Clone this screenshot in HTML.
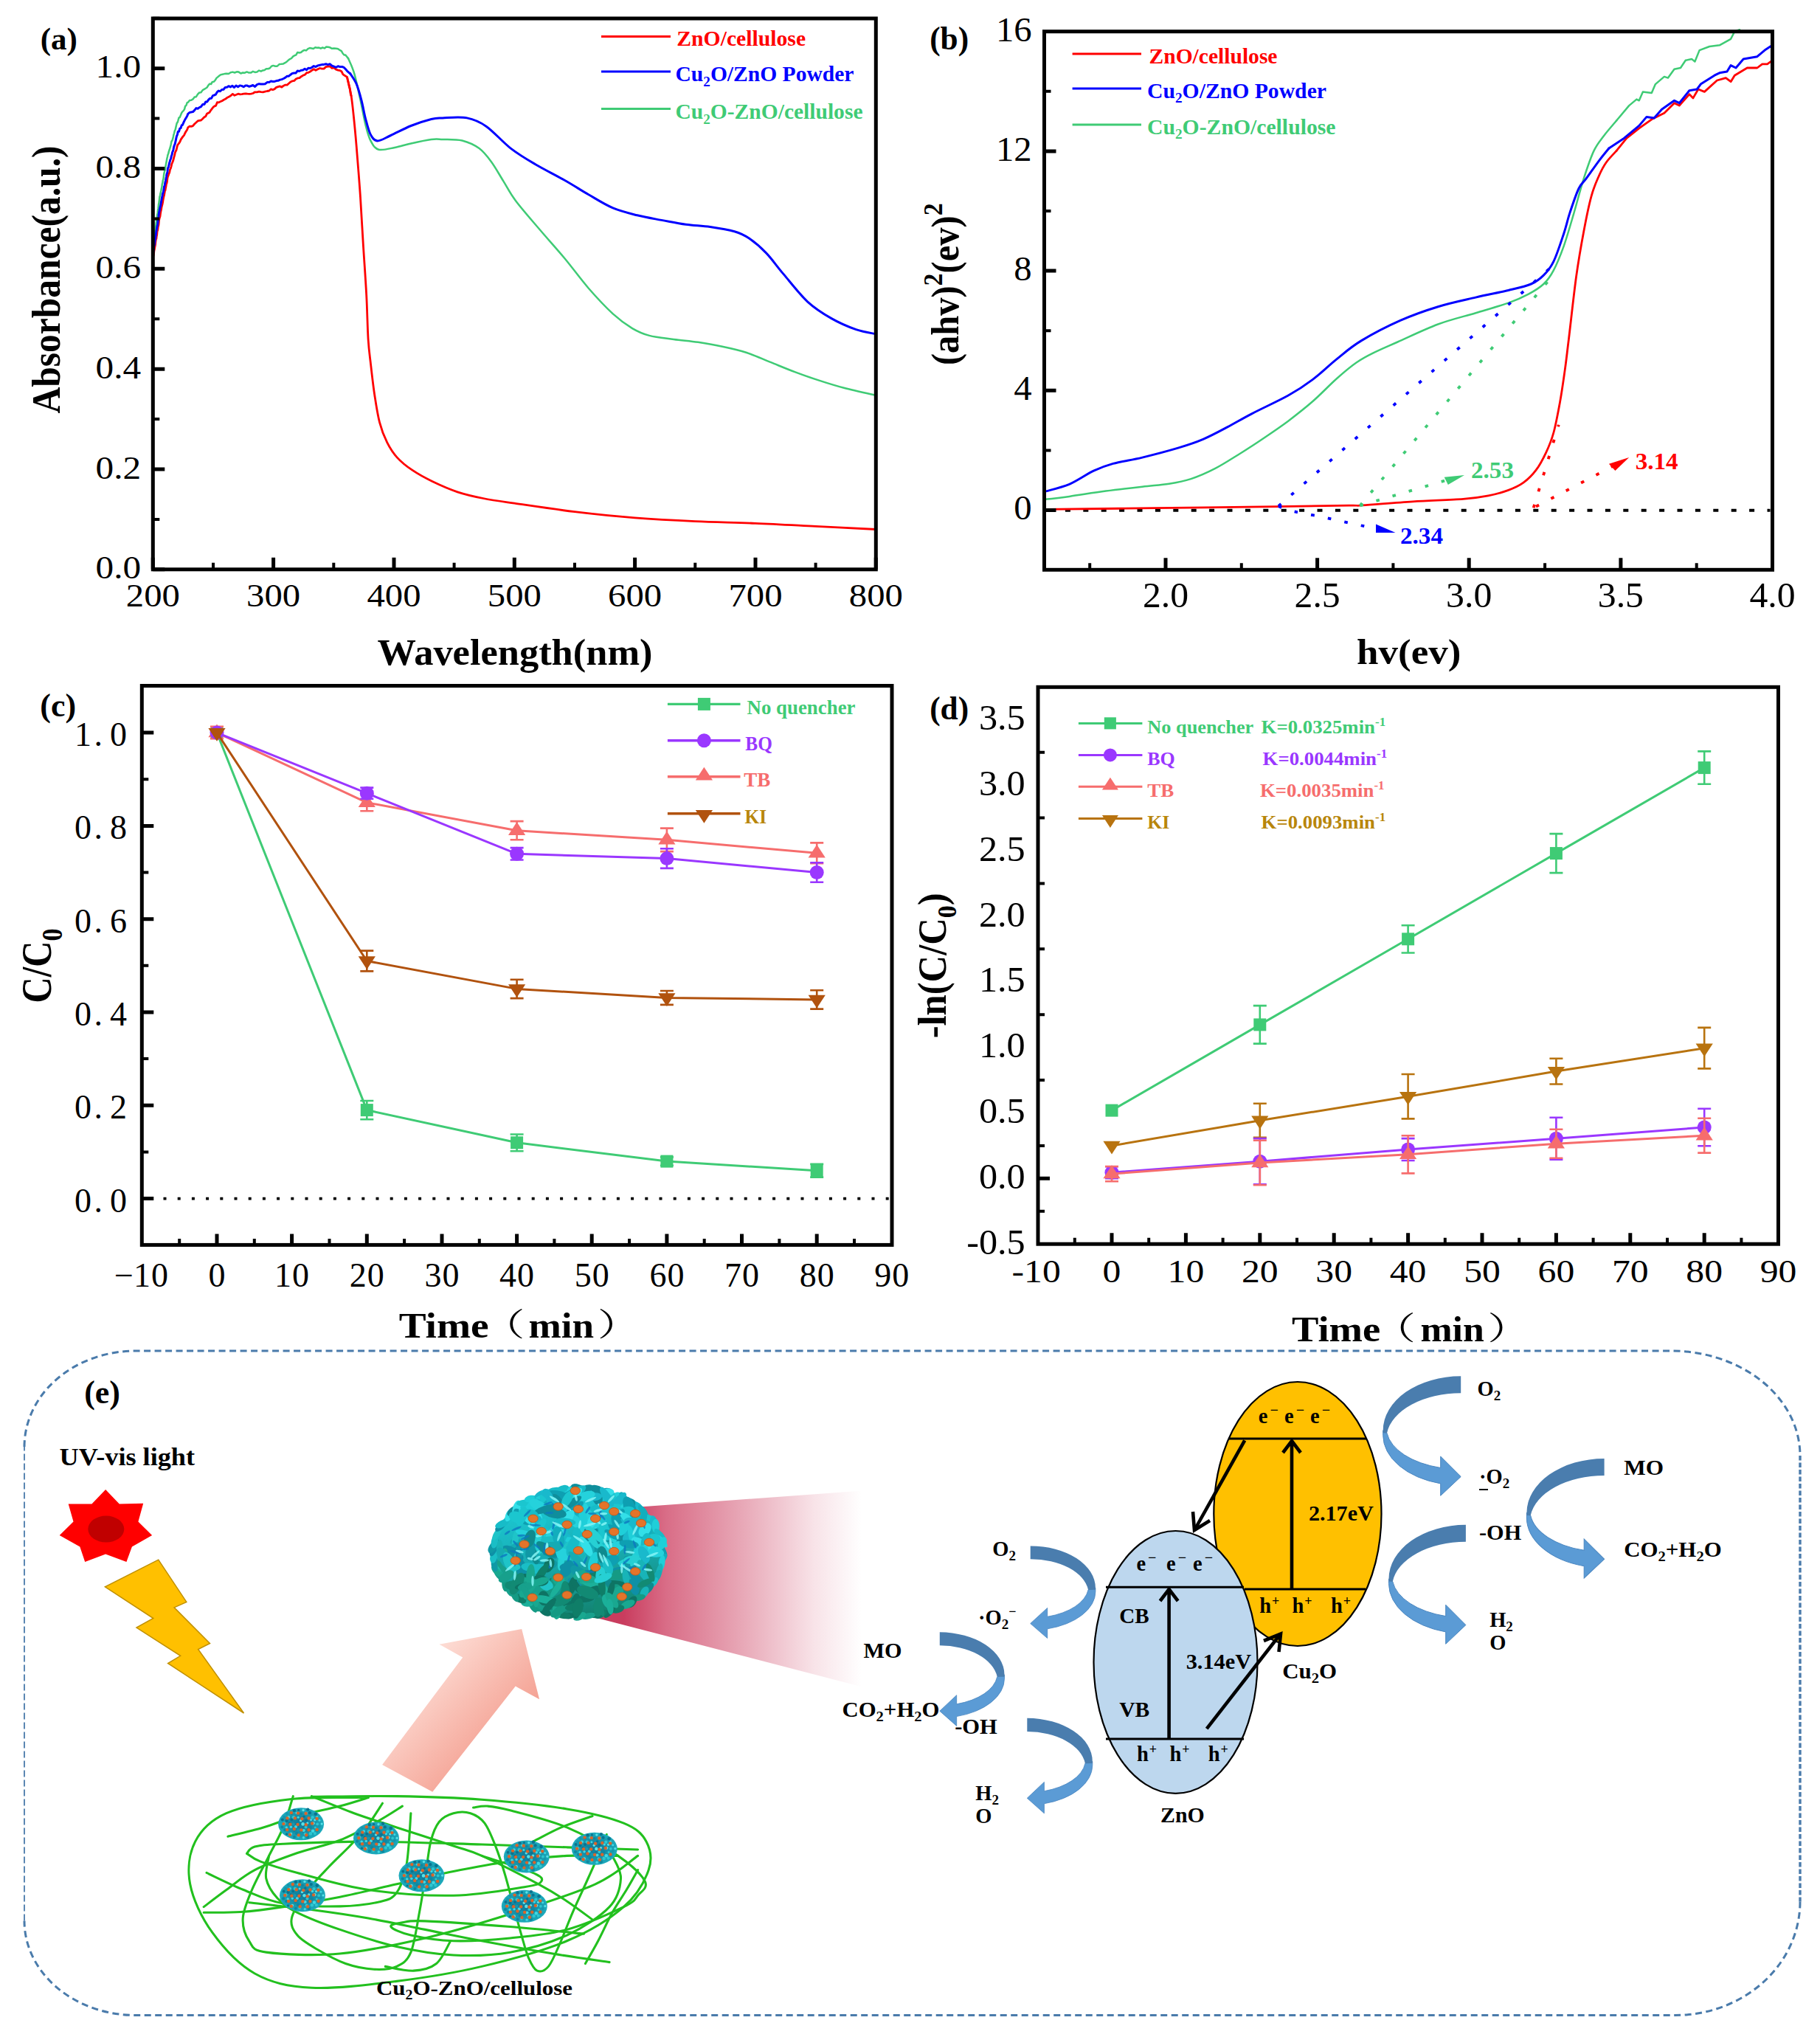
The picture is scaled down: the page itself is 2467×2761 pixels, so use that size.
<!DOCTYPE html>
<html lang="en"><head><meta charset="utf-8"><title>Figure</title>
<style>html,body{margin:0;padding:0;background:#fff}body{width:2467px;height:2761px;overflow:hidden}svg{display:block}text{font-family:"Liberation Serif","Noto Serif CJK SC",serif}</style></head><body>
<svg width="2467" height="2761" viewBox="0 0 2467 2761">
<defs><linearGradient id="gArrow" gradientUnits="userSpaceOnUse" x1="575" y1="2255" x2="700" y2="2370"><stop offset="0" stop-color="#fddcd4"/><stop offset="1" stop-color="#f3998a"/></linearGradient>
<linearGradient id="gCone" gradientUnits="userSpaceOnUse" x1="845" y1="0" x2="1168" y2="0"><stop offset="0" stop-color="#c93c5e"/><stop offset="0.18" stop-color="#d96d87"/><stop offset="0.5" stop-color="#e8a8b7"/><stop offset="0.8" stop-color="#f8e3e8"/><stop offset="1" stop-color="#ffffff"/></linearGradient>
<linearGradient id="gBall" x1="0.4" y1="0" x2="0.6" y2="1"><stop offset="0" stop-color="#1dcfdc"/><stop offset="0.5" stop-color="#18aeb4"/><stop offset="1" stop-color="#12806c"/></linearGradient>
<radialGradient id="gSmall" cx="0.5" cy="0.5" r="0.55"><stop offset="0" stop-color="#116f92"/><stop offset="0.6" stop-color="#1796ab"/><stop offset="1" stop-color="#1fb2c2"/></radialGradient>
<g id="sb">
<ellipse cx="0" cy="0" rx="31" ry="22" fill="url(#gSmall)"/>
<circle cx="-9.2" cy="-18.4" r="2.2" fill="#0a7390"/>
<circle cx="-3.4" cy="-18.9" r="1.7" fill="#0a7390"/>
<circle cx="3" cy="-18.8" r="1.7" fill="#57e2e8"/>
<circle cx="9.1" cy="-19.7" r="2.2" fill="#0a7390"/>
<circle cx="-19.2" cy="-14.2" r="1.9" fill="#1596ae"/>
<circle cx="-12.8" cy="-14.2" r="1.6" fill="#0a7390"/>
<circle cx="-6.1" cy="-15.1" r="1.5" fill="#3fd8e2"/>
<circle cx="-0" cy="-14" r="1.8" fill="#0e87a0"/>
<circle cx="6.7" cy="-14.4" r="2.1" fill="#57e2e8"/>
<circle cx="11.8" cy="-15.1" r="2.1" fill="#0a7390"/>
<circle cx="19.8" cy="-13.6" r="2.3" fill="#0a7390"/>
<circle cx="-23" cy="-9.4" r="2" fill="#1596ae"/>
<circle cx="-16.9" cy="-9.4" r="1.9" fill="#3fd8e2"/>
<circle cx="-10" cy="-9.1" r="2.3" fill="#2cc6d0"/>
<circle cx="-3.9" cy="-9.1" r="1.5" fill="#3fd8e2"/>
<circle cx="3.8" cy="-10" r="1.6" fill="#0a7390"/>
<circle cx="8.9" cy="-9.5" r="1.8" fill="#1596ae"/>
<circle cx="15.5" cy="-9.1" r="2.2" fill="#2cc6d0"/>
<circle cx="21.6" cy="-9.5" r="1.5" fill="#3fd8e2"/>
<circle cx="-25.3" cy="-5.7" r="2" fill="#0a7390"/>
<circle cx="-19.4" cy="-4.4" r="2.2" fill="#0a7390"/>
<circle cx="-12.8" cy="-5.8" r="1.9" fill="#0a7390"/>
<circle cx="-7.4" cy="-4.6" r="2.4" fill="#0e87a0"/>
<circle cx="-0.5" cy="-4.6" r="1.7" fill="#57e2e8"/>
<circle cx="7" cy="-5" r="2" fill="#0a7390"/>
<circle cx="13.4" cy="-5.7" r="1.7" fill="#3fd8e2"/>
<circle cx="18.7" cy="-5.5" r="1.6" fill="#57e2e8"/>
<circle cx="24.9" cy="-5" r="1.5" fill="#3fd8e2"/>
<circle cx="-22.8" cy="-0.7" r="2.4" fill="#2cc6d0"/>
<circle cx="-15.7" cy="-1.2" r="1.8" fill="#0a7390"/>
<circle cx="-10.4" cy="0.1" r="2.2" fill="#1596ae"/>
<circle cx="-3" cy="-1.1" r="2.1" fill="#0e87a0"/>
<circle cx="2.5" cy="0.1" r="2.3" fill="#57e2e8"/>
<circle cx="8.7" cy="-1.3" r="1.6" fill="#57e2e8"/>
<circle cx="16.5" cy="-1" r="2.1" fill="#57e2e8"/>
<circle cx="22.1" cy="0" r="1.9" fill="#2cc6d0"/>
<circle cx="28.1" cy="-0.2" r="1.6" fill="#57e2e8"/>
<circle cx="-25.8" cy="4.2" r="2.1" fill="#0e87a0"/>
<circle cx="-19.8" cy="4.7" r="1.7" fill="#3fd8e2"/>
<circle cx="-13.7" cy="3.9" r="1.7" fill="#3fd8e2"/>
<circle cx="-7.1" cy="3.8" r="2" fill="#3fd8e2"/>
<circle cx="-0.9" cy="3.4" r="1.9" fill="#0e87a0"/>
<circle cx="6.5" cy="4.3" r="2" fill="#2cc6d0"/>
<circle cx="12.7" cy="4.7" r="1.9" fill="#0e87a0"/>
<circle cx="19.3" cy="4.7" r="1.5" fill="#2cc6d0"/>
<circle cx="24.7" cy="3.3" r="1.8" fill="#1596ae"/>
<circle cx="-21.8" cy="7.9" r="2" fill="#0e87a0"/>
<circle cx="-16.9" cy="9.3" r="2.2" fill="#1596ae"/>
<circle cx="-9.3" cy="9.3" r="1.8" fill="#0e87a0"/>
<circle cx="-3.4" cy="7.9" r="2.3" fill="#1596ae"/>
<circle cx="3.6" cy="8.7" r="2.1" fill="#3fd8e2"/>
<circle cx="9.2" cy="7.8" r="1.6" fill="#0a7390"/>
<circle cx="16" cy="9.4" r="2.3" fill="#3fd8e2"/>
<circle cx="21.9" cy="9.3" r="2.1" fill="#1596ae"/>
<circle cx="-19.5" cy="13.7" r="1.6" fill="#0a7390"/>
<circle cx="-13.8" cy="13.4" r="1.9" fill="#57e2e8"/>
<circle cx="-5.9" cy="12.6" r="2.2" fill="#0e87a0"/>
<circle cx="0.5" cy="12.8" r="1.5" fill="#1596ae"/>
<circle cx="5.6" cy="13.4" r="2" fill="#2cc6d0"/>
<circle cx="12.9" cy="13.1" r="2.3" fill="#2cc6d0"/>
<circle cx="18.8" cy="12.8" r="2.1" fill="#2cc6d0"/>
<circle cx="-9.2" cy="17.6" r="2" fill="#0e87a0"/>
<circle cx="-3.9" cy="17.2" r="1.8" fill="#2cc6d0"/>
<circle cx="3.3" cy="18.5" r="1.7" fill="#3fd8e2"/>
<circle cx="8.8" cy="17.8" r="2.3" fill="#0e87a0"/>
<circle cx="-13.2" cy="-15.2" r="2.2" fill="#d9652b"/>
<circle cx="-4" cy="-14.7" r="2.2" fill="#d9652b"/>
<circle cx="6.5" cy="-14.3" r="2.2" fill="#d9652b"/>
<circle cx="-18.7" cy="-7.9" r="2.2" fill="#d9652b"/>
<circle cx="-8.2" cy="-7.9" r="2.2" fill="#d9652b"/>
<circle cx="1.3" cy="-7.1" r="2.2" fill="#d9652b"/>
<circle cx="10.5" cy="-7.8" r="2.2" fill="#d9652b"/>
<circle cx="21.4" cy="-7.4" r="2.2" fill="#d9652b"/>
<circle cx="-23.7" cy="-0.2" r="2.2" fill="#d9652b"/>
<circle cx="-14.7" cy="0.5" r="2.2" fill="#d9652b"/>
<circle cx="-4.6" cy="0.6" r="2.2" fill="#d9652b"/>
<circle cx="6.7" cy="1" r="2.2" fill="#d9652b"/>
<circle cx="15.1" cy="-0.8" r="2.2" fill="#d9652b"/>
<circle cx="-18.9" cy="7.8" r="2.2" fill="#d9652b"/>
<circle cx="-9.3" cy="6.7" r="2.2" fill="#d9652b"/>
<circle cx="0.3" cy="8.1" r="2.2" fill="#d9652b"/>
<circle cx="10.4" cy="7.9" r="2.2" fill="#d9652b"/>
<circle cx="21.6" cy="7.6" r="2.2" fill="#d9652b"/>
<circle cx="-15.1" cy="14.5" r="2.2" fill="#d9652b"/>
<circle cx="-3.3" cy="15.1" r="2.2" fill="#d9652b"/>
<circle cx="7.1" cy="15" r="2.2" fill="#d9652b"/>
</g></defs>
<rect width="2467" height="2761" fill="#fff"/>
<g id="pa"><g fill="none" stroke-linejoin="round" stroke-linecap="round">
<path d="M207.7 347.3L208.1 346.6L208.5 343.9L208.9 340L209.4 338.1L209.8 335.4L210.2 333.4L210.6 331.2L211 326.8L211.5 324.1L211.9 323.7L212.3 320.1L212.7 318.4L213.1 313.8L213.6 312.4L214 310.6L214.4 306.8L214.8 306.1L215.2 303.4L215.6 298.6L216.1 296L216.5 294.8L217 293.4L217.5 289.4L218 286.5L218.5 284.5L219 281L219.5 279L220 277.1L220.5 274.7L221 271.6L221.5 269.1L222 266.5L222.5 264.7L223 261.7L223.5 258.5L224 258.1L224.5 254.9L225 252.6L225.5 249L226 248.6L226.5 245.7L227 241.3L227.5 239.3L228.2 237.9L229 235.4L229.8 233.6L230.5 229.8L231.3 228.4L232.1 225.6L232.8 222.2L233.6 220.5L234.3 218.8L235.1 216.3L235.9 212.9L236.6 210.7L237.4 206.8L238.2 204.9L238.9 203.9L239.7 200.5L240.4 197.4L241.2 196L242.6 194.2L244 191.9L245.3 188.9L246.7 186.9L248.1 184.9L249.5 183.4L250.8 180.5L252.2 178L253.6 176L254.9 172.6L257.1 171.1L259.3 171.4L261.5 170.6L263.7 168L265.9 166L268.1 163.9L270.3 163.3L272.5 163L274.7 161L276.9 158.8L278.7 157.8L280.4 154.3L282.2 153.2L283.9 152.4L285.7 149.6L287.4 147.4L289.2 145L290.9 143.9L292.7 143.1L294.4 138.7L296.2 138.9L298.6 137.8L301 136.7L303.4 135.2L305.8 134.1L308.2 132.2L310.6 131.1L313 129.5L315.4 127.4L317.9 129.3L320.4 128.3L322.9 127.2L325.4 127.8L327.9 127.6L330.4 127.1L332.9 126.9L335.4 127.2L337.9 127.3L340.4 127.1L342.9 126.5L345.6 124.8L348.4 124.8L351.1 124.1L353.8 124.6L356.6 124.8L359.3 124.1L362.1 123.5L364.8 123L367.3 120.9L369.7 121.7L372.2 120.6L374.6 118.4L377 117.6L379.5 116.9L381.9 118.2L384.4 116.2L386.8 115.1L389.2 115.1L391.6 113L394 110.9L396.4 109.8L398.8 109.4L401.2 107L403.6 105.9L406 105.7L408.4 103.7L410.9 102.1L413.3 101.2L415.7 98.7L418.1 98.3L420.5 97.1L422.9 95.2L425.3 93.7L428 95.3L430.8 93.8L433.5 92.5L436.3 93.1L439 93.1L441.8 90.6L444.5 90.1L447.3 90L450 92.4L452.7 91.9L455.5 94.2L458.2 95.1L461 95.7L462.9 96.7L464.8 100.6L466.8 102.1L468.7 103.3L470.6 104.4L471.2 108L471.7 109.8L472.3 112.8L472.8 114.6L473.4 117.9L473.9 118.9L474.5 121.9L475 126.2L475.5 128.4L476.1 129.9" stroke="#ff0000" stroke-width="2.8"/>
<path d="M470.6 105.2C471.5 109.3 474.5 119.8 476.1 129.9C477.7 140 478.8 151.9 480.2 165.6C481.6 179.3 483 195.4 484.3 212.3C485.7 229.2 487.1 246.6 488.5 267.3C489.8 287.9 491.2 313.8 492.6 335.9C494 358 495.6 379.3 496.7 399.9C497.8 420.6 498.1 444.3 499.1 460C500.1 475.7 501.2 481.6 502.6 494.1C504 506.6 505.7 522 507.7 535C509.7 548 511.7 561.6 514.5 572.4C517.3 583.2 520.7 591.8 524.7 599.7C528.7 607.7 532.6 613.9 538.3 620.1C544 626.4 550.8 631.8 558.8 637.2C566.8 642.6 575.8 647.6 586 652.5C596.2 657.4 608.6 663 620.1 666.8C631.6 670.6 642.1 672.9 655 675.5C667.9 678.1 676.6 679.2 697.3 682.2C718 685.2 751.8 690.4 779 693.7C806.2 697 833.4 699.8 860.6 701.9C887.8 704 915.1 705.4 942.3 706.6C969.5 707.8 996.8 708.2 1024 709.3C1051.2 710.4 1078.4 712 1105.6 713.4C1132.8 714.8 1173.7 716.8 1187.3 717.5" stroke="#ff0000" stroke-width="2.8"/>
<path d="M207.7 329.8L208 328L208.4 325L208.7 323.1L209.1 320.7L209.5 316.7L209.8 314L210.2 313.6L210.5 309.6L210.9 307L211.2 306.5L211.6 302.6L211.9 301L212.3 297.5L212.6 295.4L213 291.6L213.3 290.4L213.7 288.4L214 285L214.4 283L214.7 280.3L215.1 276.2L215.4 275.5L215.8 272.5L216.1 269.3L216.5 266L217 265.7L217.4 262.2L217.9 260.3L218.4 258.2L218.9 255.3L219.4 253.3L219.8 249.4L220.3 248L220.8 244.5L221.3 243.3L221.7 240.6L222.2 236.1L222.7 233.7L223.2 231.4L223.7 230.8L224.1 227L224.6 224.9L225.1 221.6L225.6 219.6L226 216.8L226.5 214.2L227 212.3L227.5 209.8L228.2 208.2L228.9 205.1L229.6 203.3L230.4 200.7L231.1 198.5L231.8 195.3L232.5 191.5L233.3 190.8L234 188.6L234.7 186L235.4 182.7L236.1 180.6L236.9 176.9L237.6 176L238.3 172.9L239 169.7L239.8 166.6L240.5 166.2L241.2 164.1L242.5 159.5L243.7 159.1L245 155.9L246.2 153L247.5 151.1L248.7 150.1L250 148.1L251.2 143.7L252.4 142.9L253.7 139.2L254.9 138.7L257.1 136L259.3 135.8L261.5 134.4L263.7 131.6L265.9 131.2L268.1 127.7L270.3 125.5L272.5 125.2L274.7 122.1L276.9 120.9L278.8 119.7L280.6 118.5L282.4 115.6L284.2 113.6L286.1 114L287.9 110.9L289.7 110.8L291.6 108.9L293.4 105.9L295.2 104.4L297.1 102.8L298.9 101.4L301.6 100.7L304.4 100.1L307.1 99.7L309.9 100L312.6 98.3L315.4 97.6L318.1 98.5L320.9 97.3L323.6 97.6L326.4 99.5L329.1 98.5L331.9 98.7L334.6 97.4L337.4 98.6L340.1 98.6L342.9 96.8L345.6 97.9L348.4 97.5L351.1 95.6L353.8 96.7L356.2 95.4L358.6 95L360.9 93.3L363.3 93.3L365.6 92.5L368 89.7L370.3 88.9L373.1 89.7L375.8 89.7L378.6 87.1L381.3 86.8L384.1 86.4L386.8 84.9L388.9 83.4L390.9 81.6L393 80.1L395.1 79L397.1 76.6L399.2 75.2L401.2 74.6L403.3 71L405.7 71.5L408 71L410.4 69L412.7 67.9L415.1 68.5L417.4 66.1L419.8 65.1L422.3 65.5L424.8 66L427.3 64.3L429.8 64.7L432.3 64.6L434.8 65.7L437.3 64.5L439.8 65.4L442.3 63.4L444.8 63.7L447.3 64.3L450 65.8L452.7 65.5L455.5 65.7L458.2 66.3L461 68.2L462.8 69.1L464.7 72.5L466.5 74.5L468.3 74.6L470.1 76.7L472 79.1" stroke="#3fcb75" stroke-width="2.5"/>
<path d="M472 79.1C473.4 82.5 477.5 90.3 480.2 99.7C483 109.1 485.9 123.9 488.5 135.4C491 146.8 493 159.2 495.3 168.4C497.6 177.5 499.2 184.6 502.2 190.3C505.2 196.1 507.7 201.1 513.2 202.7C518.7 204.3 527.8 201.3 535.2 199.9C542.5 198.6 548.9 196.3 557.1 194.5C565.4 192.6 577.5 189.9 584.6 189C591.8 188 593 188.6 600 188.9C607 189.2 618.1 188.5 626.4 190.5C634.6 192.6 642.9 196.3 649.5 201.1C656 205.9 660.4 211.8 665.9 219.2C671.4 226.6 676.9 236.8 682.4 245.6C687.9 254.4 690.7 261 698.9 272C707.1 283 720.9 298.6 731.9 311.5C742.9 324.5 753.8 336.3 764.8 349.5C775.8 362.6 786.8 378 797.8 390.7C808.8 403.3 820.9 416.2 830.8 425.3C840.7 434.3 848.9 440.1 857.1 445.1C865.4 450 870.9 452.5 880.2 454.9C889.6 457.4 902.2 458.4 913.2 459.9C924.2 461.4 935.2 462.2 946.2 463.8C957.1 465.5 968.1 467.4 979.1 469.8C990.1 472.1 1001.1 474.5 1012.1 478C1023.1 481.6 1034.1 486.8 1045.1 491.2C1056 495.6 1067 500.3 1078 504.4C1089 508.5 1100 512.4 1111 515.9C1122 519.5 1131.3 522.5 1144 525.8C1156.6 529.1 1179.7 534.1 1186.8 535.7" stroke="#3fcb75" stroke-width="2.5"/>
<path d="M207.7 342.6L208.1 340.1L208.5 335.3L208.8 332.8L209.2 332.3L209.6 329.5L210 326.8L210.4 323.4L210.8 321.6L211.1 319.1L211.5 316.6L211.9 312.9L212.3 311.1L212.7 308.5L213 306.9L213.4 305.1L213.8 302.5L214.2 298.9L214.6 296.1L215 293.2L215.3 290.1L215.7 287.5L216.1 286.2L216.5 283.3L217 280.9L217.5 279.8L218 276.3L218.5 273.9L219 270.6L219.5 267.5L220 265.8L220.5 262.8L221 261.3L221.5 260.1L222 256.7L222.5 252.9L223 252.3L223.5 249.5L224 246.9L224.5 244.8L225 242L225.5 239.5L226 235.9L226.5 235L227 232.5L227.5 227.9L228.2 227L228.8 224.4L229.5 221.3L230.2 219L230.9 216.4L231.6 215.1L232.3 211.5L233 209.9L233.7 206.2L234.3 205.1L235 202.6L235.7 199L236.4 196.8L237.1 195.3L237.8 192.3L238.5 189.2L239.1 186L239.8 183.8L240.5 182.3L241.2 178.5L242.5 178.2L243.7 174.2L245 173.7L246.2 169.9L247.5 169.3L248.7 166.4L250 163.6L251.2 161.4L252.4 159.5L253.7 157.1L254.9 154.1L257.1 152.5L259.3 151.9L261.5 151.6L263.7 149.4L265.9 146.6L268.1 147.2L270.3 145.6L272.5 144.7L274.7 141.5L276.9 141.5L278.8 138L280.8 137.9L282.7 135.2L284.6 133.4L286.5 133.3L288.5 129.6L290.4 129L292.3 128.2L294.2 124.9L296.2 123.1L298.4 123.8L300.7 121.5L303 121.3L305.3 118.4L307.6 118.2L309.9 116.7L312.4 117.9L315 116.3L317.5 118.5L320 116L322.6 117.8L325.1 115.9L327.6 116.4L330.2 117.8L332.7 116.1L335.2 116.1L337.8 117.3L340.3 116.5L342.9 115.5L345.6 117.4L348.4 114.6L351.1 113.7L353.8 114L356.6 114.1L359.3 113.8L362.1 111.6L364.8 111.6L367.3 110L369.7 110.4L372.2 110.4L374.6 109.6L377 109.3L379.5 108.1L381.9 107.6L384.4 106.5L386.8 105.1L389.2 103.3L391.5 103.2L393.9 101.2L396.2 99.4L398.6 99.1L400.9 99.1L403.3 96L405.7 96.5L408.2 95.3L410.6 94.9L413.1 93.3L415.5 94.8L417.9 92.3L420.4 92.5L422.8 91.3L425.3 89.6L428 90.5L430.8 88.9L433.5 88.2L436.3 87.6L439 87.4L441.8 86.7L444.5 87.6L447.3 86.8L450 89.1L452.7 90.1L455.5 91.3L458.2 89.7L461 90.6L463.7 90.4L466.5 91.7L468.5 93.8L470.6 96.3L472.7 98.2L474.7 99.7" stroke="#0000ff" stroke-width="3"/>
<path d="M474.7 99.7C476.1 102 480.4 107.5 483 113.4C485.5 119.4 487.8 127.6 489.8 135.4C491.9 143.2 493.3 152.3 495.3 160.1C497.4 167.9 499.5 177 502.2 182.1C504.9 187.2 507.2 190.7 511.8 190.9C516.4 191.1 522.1 186.8 529.7 183.5C537.2 180.1 548 174.2 557.1 170.5C566.3 166.9 577.5 163.3 584.6 161.5C591.8 159.7 591.9 160.2 600 159.9C608.1 159.6 623.1 158 633 159.9C642.9 161.8 649.5 164.6 659.3 171.4C669.2 178.3 681.3 192.6 692.3 201.1C703.3 209.6 713.2 215.4 725.3 222.5C737.4 229.7 752.7 237.1 764.8 244C776.9 250.8 786.8 257.4 797.8 263.7C808.8 270.1 819.8 277.2 830.8 281.9C841.8 286.5 852.8 289 863.7 291.8C874.7 294.5 885.7 296.3 896.7 298.4C907.7 300.4 918.7 302.7 929.7 304.3C940.7 305.8 951.7 306 962.6 307.6C973.6 309.2 986.8 311.3 995.6 313.8C1004.4 316.4 1008.2 318.2 1015.4 323.1C1022.5 327.9 1030.8 334.9 1038.5 342.9C1046.2 350.8 1052.2 359.9 1061.5 370.9C1070.9 381.9 1083.5 398.6 1094.5 408.8C1105.5 419 1116.5 425.6 1127.5 431.9C1138.5 438.2 1150.6 443.2 1160.4 446.7C1170.3 450.2 1182.4 451.7 1186.8 452.6" stroke="#0000ff" stroke-width="3"/>
</g>
<rect x="207.3" y="25" width="980" height="746.8" fill="none" stroke="#000" stroke-width="5"/>
<path d="M207.3 771.8v-16M370.6 771.8v-16M534 771.8v-16M697.3 771.8v-16M860.6 771.8v-16M1024 771.8v-16M1187.3 771.8v-16M207.3 771.8h16M207.3 636h16M207.3 500.2h16M207.3 364.3h16M207.3 228.5h16M207.3 92.7h16" stroke="#000" stroke-width="5" fill="none"/>
<path d="M289 771.8v-9M452.3 771.8v-9M615.6 771.8v-9M779 771.8v-9M942.3 771.8v-9M1105.6 771.8v-9M207.3 703.9h9M207.3 568.1h9M207.3 432.2h9M207.3 296.4h9M207.3 160.6h9M207.3 24.8h9" stroke="#000" stroke-width="4" fill="none"/>
<text transform="translate(207.3 822) scale(1.120 1)" font-size="43.5" text-anchor="middle">200</text>
<text transform="translate(370.6 822) scale(1.120 1)" font-size="43.5" text-anchor="middle">300</text>
<text transform="translate(534 822) scale(1.120 1)" font-size="43.5" text-anchor="middle">400</text>
<text transform="translate(697.3 822) scale(1.120 1)" font-size="43.5" text-anchor="middle">500</text>
<text transform="translate(860.6 822) scale(1.120 1)" font-size="43.5" text-anchor="middle">600</text>
<text transform="translate(1024 822) scale(1.120 1)" font-size="43.5" text-anchor="middle">700</text>
<text transform="translate(1187.3 822) scale(1.120 1)" font-size="43.5" text-anchor="middle">800</text>
<text transform="translate(191.2 784.3) scale(1.120 1)" font-size="44" text-anchor="end">0.0</text>
<text transform="translate(191.2 648.5) scale(1.120 1)" font-size="44" text-anchor="end">0.2</text>
<text transform="translate(191.2 512.7) scale(1.120 1)" font-size="44" text-anchor="end">0.4</text>
<text transform="translate(191.2 376.8) scale(1.120 1)" font-size="44" text-anchor="end">0.6</text>
<text transform="translate(191.2 241) scale(1.120 1)" font-size="44" text-anchor="end">0.8</text>
<text transform="translate(191.2 105.2) scale(1.120 1)" font-size="44" text-anchor="end">1.0</text>
<text x="511.6" y="900.9" font-size="50" font-weight="bold" textLength="373" lengthAdjust="spacingAndGlyphs" >Wavelength(nm)</text>
<text transform="translate(80.5 560.5) rotate(-90)" font-size="54" font-weight="bold" textLength="363" lengthAdjust="spacingAndGlyphs">Absorbance(a.u.)</text>
<text x="54.8" y="66.5" font-size="43" font-weight="bold" >(a)</text>
<line x1="815" y1="49.4" x2="909" y2="49.4" stroke="#ff0000" stroke-width="3" />
<text x="917.3" y="61.9" font-size="29.3" font-weight="bold" fill="#ff0000" textLength="174.8" lengthAdjust="spacingAndGlyphs" >ZnO/cellulose</text>
<line x1="815" y1="97" x2="909" y2="97" stroke="#0000ff" stroke-width="3" />
<text x="915.5" y="110.2" font-size="29.3" font-weight="bold" fill="#0000ff" textLength="242" lengthAdjust="spacingAndGlyphs" >Cu<tspan font-size="19" dy="6.5">2</tspan><tspan dy="-6.5" font-size="1">&#8203;</tspan>O/ZnO Powder</text>
<line x1="815" y1="147.5" x2="909" y2="147.5" stroke="#3fcb75" stroke-width="3" />
<text x="915.5" y="161.2" font-size="29.3" font-weight="bold" fill="#3fcb75" textLength="254" lengthAdjust="spacingAndGlyphs" >Cu<tspan font-size="19" dy="6.5">2</tspan><tspan dy="-6.5" font-size="1">&#8203;</tspan>O-ZnO/cellulose</text></g>
<g id="pb"><line x1="1419.5" y1="691.8" x2="2399.5" y2="691.8" stroke="#000" stroke-width="4" stroke-dasharray="7 17.4"/>
<g fill="none" stroke-linejoin="round" stroke-linecap="round">
<path d="M1416.5 676.8C1422 676.2 1435.7 674.7 1449.5 672.9C1463.2 671 1482.4 667.8 1498.9 665.6C1515.4 663.4 1534.1 661.3 1548.4 659.7C1562.6 658 1573.6 657.5 1584.6 655.7C1595.6 654 1603.8 652.6 1614.3 649.1C1624.7 645.7 1636.3 640.6 1647.3 634.9C1658.2 629.3 1669.2 622 1680.2 615.2C1691.2 608.3 1702.2 601.2 1713.2 593.7C1724.2 586.3 1735.2 578.9 1746.2 570.7C1757.1 562.4 1768.1 553.9 1779.1 544.3C1790.1 534.7 1802.2 521.8 1812.1 513C1822 504.2 1830.2 497.3 1838.5 491.5C1846.7 485.8 1852.2 483 1861.5 478.4C1870.9 473.7 1879.9 470 1894.5 463.5C1909.1 457 1931.6 446.1 1949.2 439.5C1966.8 433 1984.4 429 2000.3 424.2C2016.2 419.4 2032.7 414.8 2044.6 410.6C2056.5 406.3 2063.9 402.9 2071.9 398.6C2079.8 394.4 2086.6 390.4 2092.3 385C2098 379.6 2101.4 374.8 2105.9 366.3C2110.5 357.8 2115 346.7 2119.6 333.9C2124.1 321.1 2128.7 304.9 2133.2 289.6C2137.7 274.3 2142.3 256.1 2146.8 241.9C2151.4 227.7 2155.9 214.1 2160.5 204.4C2165 194.8 2169 190.8 2174.1 184C2179.2 177.2 2188.3 167 2191.1 163.5" stroke="#3fcb75" stroke-width="2.5"/>
<path d="M2191.1 163.5L2208.2 143.1L2218.4 134.6L2221.8 136.3L2226.9 124.4L2238.8 126.1L2243.9 114.1L2255.9 103.9L2261 105.6L2269.5 93.7L2278 92L2284.8 81.8L2293.3 80.1L2297.4 83.5L2303.6 68.1L2317.2 63L2330.8 61.3L2346.1 52.8L2351.3 42.6L2358.1 40.2" stroke="#3fcb75" stroke-width="2.5"/>
<path d="M1416.5 690.3C1441.2 690.1 1512.6 689.3 1564.8 688.7C1617 688.1 1685.7 687.3 1729.7 686.7C1773.6 686.1 1809 685.4 1828.6 685.1C1848.1 684.8 1832.6 685.8 1847 684.9C1861.4 684 1892.3 681.2 1915 679.8C1937.7 678.4 1966.2 677.7 1983.3 676.4C2000.4 675.1 2007.2 673.9 2017.4 671.9C2027.6 669.9 2036.7 667.3 2044.6 664.4C2052.5 661.5 2058.8 658.7 2065 654.2C2071.2 649.7 2077 644 2082.1 637.2C2087.2 630.4 2091.7 621.8 2095.7 613.3C2099.7 604.8 2102.9 597.4 2106 586C2109.1 574.6 2111.9 559.4 2114.5 545.2C2117.1 531 2119.3 515.1 2121.3 500.9C2123.3 486.7 2123.8 481 2126.4 460C2129 439 2133.2 399.2 2136.6 374.8C2140 350.4 2143.4 331.6 2146.8 313.5C2150.2 295.3 2153.6 278.3 2157.1 265.8C2160.5 253.3 2163.9 246.2 2167.3 238.5C2170.7 230.8 2173.5 225.4 2177.5 219.8C2181.5 214.1 2188.9 207 2191.1 204.4" stroke="#ff0000" stroke-width="2.8"/>
<path d="M2191.1 204.4L2204.8 187.4L2221.8 173.8L2238.8 161.8L2255.9 153.3L2269.5 139.7L2276.3 143.1L2289.9 127.8L2295 132.9L2301.9 121L2310.4 124.4L2327.4 109L2339.3 105.6L2346.1 110.7L2351.3 102.2L2368.3 92L2381.9 92L2388.7 86.9L2395.6 86.9L2402.4 81.8" stroke="#ff0000" stroke-width="2.8"/>
<path d="M1416.5 666.3C1422 664.6 1438.5 661 1449.5 656.4C1460.4 651.7 1472.5 642.9 1482.4 638.2C1492.3 633.6 1497.8 631.4 1508.8 628.4C1519.8 625.3 1533.5 623.7 1548.4 620.1C1563.2 616.5 1584.1 611 1597.8 606.9C1611.5 602.8 1619.8 600.1 1630.8 595.4C1641.8 590.7 1652.8 584.7 1663.7 578.9C1674.7 573.1 1683 567.9 1696.7 560.8C1710.4 553.6 1732.4 543.7 1746.2 536C1759.9 528.4 1768.1 522.9 1779.1 514.6C1790.1 506.4 1801.1 495.4 1812.1 486.6C1823.1 477.8 1830.7 470.6 1845.1 461.9C1859.4 453.2 1880.7 442.1 1898.1 434.4C1915.5 426.7 1932.2 420.9 1949.2 415.7C1966.3 410.4 1984.4 406.8 2000.3 403.1C2016.2 399.4 2032.1 396.5 2044.6 393.5C2057.1 390.5 2067.3 388.4 2075.3 385C2083.2 381.6 2087.2 378.2 2092.3 373.1C2097.4 368 2101.4 363.7 2105.9 354.3C2110.5 345 2115.9 327.9 2119.6 316.9C2123.3 305.8 2124.7 298.1 2128.1 287.9C2131.5 277.7 2136.3 263.2 2140 255.5C2143.7 247.9 2145.7 248.2 2150.2 241.9C2154.8 235.7 2162.2 224.9 2167.3 218.1C2172.4 211.2 2178.6 203.9 2180.9 201" stroke="#0000ff" stroke-width="3"/>
<path d="M2180.9 201L2201.3 187.4L2221.8 170.4L2232 158.4L2242.2 160.1L2252.5 148.2L2269.5 136.3L2276.3 139.7L2289.9 122.7L2300.2 121L2305.3 114.1L2324 102.2L2330.8 98.8L2341 97.1L2346.1 88.6L2353 92L2363.2 80.1L2381.9 76.7L2392.1 68.1L2402.4 61.3" stroke="#0000ff" stroke-width="3"/>
</g>
<path d="M1733 686L2105 360" stroke="#0000ff" stroke-dasharray="4.6 18.4" fill="none" stroke-width="3.8"/>
<path d="M1733 686C1745 692 1760 695 1782 698.6L1862 716" stroke="#0000ff" stroke-dasharray="4.6 18.4" fill="none" stroke-width="3.8"/>
<path d="M1865 710.5L1865 722L1891.5 722Z" fill="#0000ff"/>
<path d="M1843.4 685.4L2109.4 368" stroke="#3fcb75" stroke-dasharray="4.6 18.4" fill="none" stroke-width="3.8"/>
<path d="M1843.4 685.4L1960 651" stroke="#3fcb75" stroke-dasharray="4.6 18.4" fill="none" stroke-width="3.8"/>
<path d="M1957.7 646.7L1985 644L1962.8 656.9Z" fill="#3fcb75"/>
<path d="M2078.7 688.3L2112.8 575.8" stroke="#ff0000" stroke-dasharray="4.6 18.4" fill="none" stroke-width="3.8"/>
<path d="M2082 686.6L2186 632" stroke="#ff0000" stroke-dasharray="4.6 18.4" fill="none" stroke-width="3.8"/>
<path d="M2180.9 628.7L2208.2 620.1L2189.4 637.9Z" fill="#ff0000"/>
<text x="2216.7" y="635.5" font-size="32" font-weight="bold" fill="#ff0000" textLength="58" lengthAdjust="spacingAndGlyphs" >3.14</text>
<text x="1994" y="648.4" font-size="32" font-weight="bold" fill="#3fcb75" textLength="58" lengthAdjust="spacingAndGlyphs" >2.53</text>
<text x="1898" y="736.7" font-size="32" font-weight="bold" fill="#0000ff" textLength="58" lengthAdjust="spacingAndGlyphs" >2.34</text>
<rect x="1415.5" y="42.7" width="987" height="729.6" fill="none" stroke="#000" stroke-width="5"/>
<path d="M1580 772.3v-16M1785.6 772.3v-16M1991.2 772.3v-16M2196.9 772.3v-16M2402.5 772.3v-16M1415.5 691.5h16M1415.5 529.3h16M1415.5 367.1h16M1415.5 204.9h16" stroke="#000" stroke-width="5" fill="none"/>
<path d="M1477.2 772.3v-9M1682.8 772.3v-9M1888.4 772.3v-9M2094.1 772.3v-9M2299.7 772.3v-9M1415.5 610.4h9M1415.5 448.2h9M1415.5 286h9M1415.5 123.8h9" stroke="#000" stroke-width="4" fill="none"/>
<text transform="translate(1580 822.5) scale(1.037 1)" font-size="48" text-anchor="middle">2.0</text>
<text transform="translate(1785.6 822.5) scale(1.037 1)" font-size="48" text-anchor="middle">2.5</text>
<text transform="translate(1991.2 822.5) scale(1.037 1)" font-size="48" text-anchor="middle">3.0</text>
<text transform="translate(2196.9 822.5) scale(1.037 1)" font-size="48" text-anchor="middle">3.5</text>
<text transform="translate(2402.5 822.5) scale(1.037 1)" font-size="48" text-anchor="middle">4.0</text>
<text transform="translate(1398.6 704.3) scale(1.037 1)" font-size="47" text-anchor="end">0</text>
<text transform="translate(1398.6 542.1) scale(1.037 1)" font-size="47" text-anchor="end">4</text>
<text transform="translate(1398.6 379.9) scale(1.037 1)" font-size="47" text-anchor="end">8</text>
<text transform="translate(1398.6 217.7) scale(1.037 1)" font-size="47" text-anchor="end">12</text>
<text transform="translate(1398.6 55.5) scale(1.037 1)" font-size="47" text-anchor="end">16</text>
<text x="1839.1" y="899.6" font-size="49.1" font-weight="bold" textLength="141.3" lengthAdjust="spacingAndGlyphs" >hv(ev)</text>
<text transform="translate(1299.2 495.1) rotate(-90)" font-size="52.3" font-weight="bold" textLength="219.7" lengthAdjust="spacingAndGlyphs">(ahv)<tspan font-size="36.6" dy="-22.5">2</tspan><tspan dy="22.5">(ev)</tspan><tspan font-size="36.6" dy="-22.5">2</tspan></text>
<text x="1260.2" y="66.9" font-size="43.3" font-weight="bold" >(b)</text>
<line x1="1453.6" y1="73" x2="1547" y2="73" stroke="#ff0000" stroke-width="3" />
<text x="1557.5" y="85.7" font-size="29.3" font-weight="bold" fill="#ff0000" textLength="174" lengthAdjust="spacingAndGlyphs" >ZnO/cellulose</text>
<line x1="1453.6" y1="120" x2="1547" y2="120" stroke="#0000ff" stroke-width="3" />
<text x="1555" y="132.7" font-size="29.3" font-weight="bold" fill="#0000ff" textLength="243" lengthAdjust="spacingAndGlyphs" >Cu<tspan font-size="19" dy="6.5">2</tspan><tspan dy="-6.5" font-size="1">&#8203;</tspan>O/ZnO Powder</text>
<line x1="1453.6" y1="169" x2="1547" y2="169" stroke="#3fcb75" stroke-width="3" />
<text x="1555" y="181.7" font-size="29.3" font-weight="bold" fill="#3fcb75" textLength="255.5" lengthAdjust="spacingAndGlyphs" >Cu<tspan font-size="19" dy="6.5">2</tspan><tspan dy="-6.5" font-size="1">&#8203;</tspan>O-ZnO/cellulose</text></g>
<g id="pc"><line x1="202.3" y1="1624.6" x2="1209" y2="1624.6" stroke="#000" stroke-width="3.6" stroke-dasharray="4 15.2"/>
<path d="M294 993.1L497.3 1504.6L700.6 1548.8L903.9 1574.1L1107.2 1586.7" fill="none" stroke="#3fcb75" stroke-width="3" stroke-linejoin="round"/>
<path d="M497.3 1492V1517.2M488.3 1492h18M488.3 1517.2h18M700.6 1537.5V1560.2M691.6 1537.5h18M691.6 1560.2h18M903.9 1568.4V1579.8M894.9 1568.4h18M894.9 1579.8h18M1107.2 1577.9V1595.6M1098.2 1577.9h18M1098.2 1595.6h18" fill="none" stroke="#3fcb75" stroke-width="2.6"/>
<rect x="285.5" y="984.6" width="17" height="17" fill="#3fcb75"/>
<rect x="488.8" y="1496.1" width="17" height="17" fill="#3fcb75"/>
<rect x="692.1" y="1540.3" width="17" height="17" fill="#3fcb75"/>
<rect x="895.4" y="1565.6" width="17" height="17" fill="#3fcb75"/>
<rect x="1098.7" y="1578.2" width="17" height="17" fill="#3fcb75"/>
<path d="M294 993.1L497.3 1087.8L700.6 1125.7L903.9 1138.3L1107.2 1156.3" fill="none" stroke="#f66d6d" stroke-width="3" stroke-linejoin="round"/>
<path d="M294 984.9V1001.3M285 984.9h18M285 1001.3h18M497.3 1076.5V1099.2M488.3 1076.5h18M488.3 1099.2h18M700.6 1113.1V1138.3M691.6 1113.1h18M691.6 1138.3h18M903.9 1122.6V1154.1M894.9 1122.6h18M894.9 1154.1h18M1107.2 1142.4V1170.2M1098.2 1142.4h18M1098.2 1170.2h18" fill="none" stroke="#f66d6d" stroke-width="2.6"/>
<path d="M294 981.5L305.6 999.3L282.4 999.3Z" fill="#f66d6d"/>
<path d="M497.3 1076.2L508.9 1094L485.7 1094Z" fill="#f66d6d"/>
<path d="M700.6 1114.1L712.2 1131.9L689 1131.9Z" fill="#f66d6d"/>
<path d="M903.9 1126.7L915.5 1144.5L892.3 1144.5Z" fill="#f66d6d"/>
<path d="M1107.2 1144.7L1118.8 1162.5L1095.6 1162.5Z" fill="#f66d6d"/>
<path d="M294 993.1L497.3 1075.2L700.6 1157.3L903.9 1163.6L1107.2 1182.5" fill="none" stroke="#9a37ff" stroke-width="3" stroke-linejoin="round"/>
<path d="M497.3 1067.6V1082.8M488.3 1067.6h18M488.3 1082.8h18M700.6 1149.1V1165.5M691.6 1149.1h18M691.6 1165.5h18M903.9 1150.3V1176.9M894.9 1150.3h18M894.9 1176.9h18M1107.2 1169.3V1195.8M1098.2 1169.3h18M1098.2 1195.8h18" fill="none" stroke="#9a37ff" stroke-width="2.6"/>
<circle cx="294" cy="993.1" r="9.5" fill="#9a37ff"/>
<circle cx="497.3" cy="1075.2" r="9.5" fill="#9a37ff"/>
<circle cx="700.6" cy="1157.3" r="9.5" fill="#9a37ff"/>
<circle cx="903.9" cy="1163.6" r="9.5" fill="#9a37ff"/>
<circle cx="1107.2" cy="1182.5" r="9.5" fill="#9a37ff"/>
<path d="M294 993.1L497.3 1302.5L700.6 1340.4L903.9 1352.4L1107.2 1354.9" fill="none" stroke="#b1520e" stroke-width="3" stroke-linejoin="round"/>
<path d="M497.3 1288.6V1316.4M488.3 1288.6h18M488.3 1316.4h18M700.6 1327.8V1353.1M691.6 1327.8h18M691.6 1353.1h18M903.9 1343V1361.9M894.9 1343h18M894.9 1361.9h18M1107.2 1342.3V1367.6M1098.2 1342.3h18M1098.2 1367.6h18" fill="none" stroke="#b1520e" stroke-width="2.6"/>
<path d="M294 1004.7L305.6 986.9L282.4 986.9Z" fill="#b1520e"/>
<path d="M497.3 1314.1L508.9 1296.3L485.7 1296.3Z" fill="#b1520e"/>
<path d="M700.6 1352L712.2 1334.2L689 1334.2Z" fill="#b1520e"/>
<path d="M903.9 1364L915.5 1346.2L892.3 1346.2Z" fill="#b1520e"/>
<path d="M1107.2 1366.5L1118.8 1348.7L1095.6 1348.7Z" fill="#b1520e"/>
<rect x="192.3" y="929.5" width="1016.7" height="757.9" fill="none" stroke="#000" stroke-width="5"/>
<path d="M294 1687.4v-15M395.6 1687.4v-15M497.3 1687.4v-15M599 1687.4v-15M700.6 1687.4v-15M802.2 1687.4v-15M903.9 1687.4v-15M1005.5 1687.4v-15M1107.2 1687.4v-15M192.3 1624.6h16M192.3 1498.3h16M192.3 1372h16M192.3 1245.7h16M192.3 1119.4h16M192.3 993.1h16" stroke="#000" stroke-width="5" fill="none"/>
<path d="M243.2 1687.4v-8.5M344.8 1687.4v-8.5M446.5 1687.4v-8.5M548.1 1687.4v-8.5M649.8 1687.4v-8.5M751.4 1687.4v-8.5M853.1 1687.4v-8.5M954.7 1687.4v-8.5M1056.4 1687.4v-8.5M1158 1687.4v-8.5M192.3 1561.4h9M192.3 1435.1h9M192.3 1308.8h9M192.3 1182.5h9M192.3 1056.2h9" stroke="#000" stroke-width="4" fill="none"/>
<text x="101 127.5 149" y="1642.6" font-size="46">0.0</text>
<text x="101 127.5 149" y="1516.3" font-size="46">0.2</text>
<text x="101 127.5 149" y="1390" font-size="46">0.4</text>
<text x="101 127.5 149" y="1263.7" font-size="46">0.6</text>
<text x="101 127.5 149" y="1137.4" font-size="46">0.8</text>
<text x="101 127.5 149" y="1011.1" font-size="46">1.0</text>
<text x="154.9 180.9 204.9" y="1744" font-size="46">−10</text>
<text x="282.5" y="1744" font-size="46">0</text>
<text x="372.1 396.1" y="1744" font-size="46">10</text>
<text x="473.8 497.8" y="1744" font-size="46">20</text>
<text x="575.5 599.5" y="1744" font-size="46">30</text>
<text x="677.1 701.1" y="1744" font-size="46">40</text>
<text x="778.8 802.8" y="1744" font-size="46">50</text>
<text x="880.4 904.4" y="1744" font-size="46">60</text>
<text x="982 1006" y="1744" font-size="46">70</text>
<text x="1083.7 1107.7" y="1744" font-size="46">80</text>
<text x="1185.3 1209.3" y="1744" font-size="46">90</text>
<text x="540.7" y="1812.7" font-size="49" font-weight="bold" textLength="122" lengthAdjust="spacingAndGlyphs">Time</text><text x="653.4" y="1810.7" font-size="43" textLength="58" lengthAdjust="spacingAndGlyphs" font-family="'Liberation Serif','Noto Serif CJK SC',serif">（</text><text x="716.5" y="1812.7" font-size="49" font-weight="bold" textLength="88.6" lengthAdjust="spacingAndGlyphs">min</text><text x="809.7" y="1810.7" font-size="43" textLength="58" lengthAdjust="spacingAndGlyphs" font-family="'Liberation Serif','Noto Serif CJK SC',serif">）</text>
<text transform="translate(68.7 1359.4) rotate(-90)" font-size="56.8" font-weight="bold" textLength="101" lengthAdjust="spacingAndGlyphs">C/C<tspan font-size="39.8" dy="14.8">0</tspan></text>
<text x="54.3" y="971.2" font-size="43.9" font-weight="bold" >(c)</text>
<line x1="904.9" y1="954.4" x2="1003.5" y2="954.4" stroke="#3fcb75" stroke-width="3.4" />
<rect x="945.9" y="945.9" width="17" height="17" fill="#3fcb75"/>
<text x="1012.5" y="967.8" font-size="26.6" font-weight="bold" fill="#3fcb75" textLength="147" lengthAdjust="spacingAndGlyphs" >No quencher</text>
<line x1="904.9" y1="1003.7" x2="1003.5" y2="1003.7" stroke="#9a37ff" stroke-width="3.4" />
<circle cx="954.4" cy="1003.7" r="9.5" fill="#9a37ff"/>
<text x="1010.3" y="1017.1" font-size="26.6" font-weight="bold" fill="#9a37ff" textLength="36.5" lengthAdjust="spacingAndGlyphs" >BQ</text>
<line x1="904.9" y1="1052.8" x2="1003.5" y2="1052.8" stroke="#f66d6d" stroke-width="3.4" />
<path d="M954.4 1039.7L966 1057.5L942.8 1057.5Z" fill="#f66d6d"/>
<text x="1008.3" y="1066.2" font-size="26.6" font-weight="bold" fill="#f66d6d" textLength="36" lengthAdjust="spacingAndGlyphs" >TB</text>
<line x1="904.9" y1="1102.7" x2="1003.5" y2="1102.7" stroke="#b1520e" stroke-width="3.4" />
<path d="M954.4 1115.8L966 1098L942.8 1098Z" fill="#b1520e"/>
<text x="1009.6" y="1116.1" font-size="26.6" font-weight="bold" fill="#b8860b" textLength="29.5" lengthAdjust="spacingAndGlyphs" >KI</text></g>
<g id="pd"><path d="M1507 1505.1L1707.8 1388.9L1908.6 1272.8L2109.4 1156.6L2310.2 1040.6" fill="none" stroke="#3fcb75" stroke-width="3" stroke-linejoin="round"/>
<path d="M1707.8 1363.1V1414.6M1698.8 1363.1h18M1698.8 1414.6h18M1908.6 1254.2V1291.5M1899.6 1254.2h18M1899.6 1291.5h18M2109.4 1130.1V1183.1M2100.4 1130.1h18M2100.4 1183.1h18M2310.2 1018.4V1062.8M2301.2 1018.4h18M2301.2 1062.8h18" fill="none" stroke="#3fcb75" stroke-width="2.6"/>
<rect x="1498.5" y="1496.6" width="17" height="17" fill="#3fcb75"/>
<rect x="1699.3" y="1380.4" width="17" height="17" fill="#3fcb75"/>
<rect x="1900.1" y="1264.3" width="17" height="17" fill="#3fcb75"/>
<rect x="2100.9" y="1148.1" width="17" height="17" fill="#3fcb75"/>
<rect x="2301.7" y="1032.1" width="17" height="17" fill="#3fcb75"/>
<path d="M1507 1552.9L1707.8 1518.8L1908.6 1486.2L2109.4 1452.1L2310.2 1420.7" fill="none" stroke="#b8730f" stroke-width="3" stroke-linejoin="round"/>
<path d="M1707.8 1495.7V1541.9M1698.8 1495.7h18M1698.8 1541.9h18M1908.6 1456V1516.4M1899.6 1456h18M1899.6 1516.4h18M2109.4 1434.7V1469.5M2100.4 1434.7h18M2100.4 1469.5h18M2310.2 1392.9V1448.4M2301.2 1392.9h18M2301.2 1448.4h18" fill="none" stroke="#b8730f" stroke-width="2.6"/>
<path d="M1507 1564.5L1518.6 1546.7L1495.4 1546.7Z" fill="#b8730f"/>
<path d="M1707.8 1530.4L1719.4 1512.6L1696.2 1512.6Z" fill="#b8730f"/>
<path d="M1908.6 1497.8L1920.2 1480L1897 1480Z" fill="#b8730f"/>
<path d="M2109.4 1463.7L2121 1445.9L2097.8 1445.9Z" fill="#b8730f"/>
<path d="M2310.2 1432.3L2321.8 1414.5L2298.6 1414.5Z" fill="#b8730f"/>
<path d="M1507 1589.3L1707.8 1574.2L1908.6 1558L2109.4 1543.3L2310.2 1528" fill="none" stroke="#9a37ff" stroke-width="3" stroke-linejoin="round"/>
<path d="M1507 1581.3V1597.3M1498 1581.3h18M1498 1597.3h18M1707.8 1543.1V1605.3M1698.8 1543.1h18M1698.8 1605.3h18M1908.6 1543.1V1573M1899.6 1543.1h18M1899.6 1573h18M2109.4 1514.8V1571.7M2100.4 1514.8h18M2100.4 1571.7h18M2310.2 1502.8V1553.2M2301.2 1502.8h18M2301.2 1553.2h18" fill="none" stroke="#9a37ff" stroke-width="2.6"/>
<circle cx="1507" cy="1589.3" r="9.5" fill="#9a37ff"/>
<circle cx="1707.8" cy="1574.2" r="9.5" fill="#9a37ff"/>
<circle cx="1908.6" cy="1558" r="9.5" fill="#9a37ff"/>
<circle cx="2109.4" cy="1543.3" r="9.5" fill="#9a37ff"/>
<circle cx="2310.2" cy="1528" r="9.5" fill="#9a37ff"/>
<path d="M1507 1591.1L1707.8 1576L1908.6 1564.8L2109.4 1550.2L2310.2 1539.2" fill="none" stroke="#f66d6d" stroke-width="3" stroke-linejoin="round"/>
<path d="M1507 1581V1601.2M1498 1581h18M1498 1601.2h18M1707.8 1545.8V1606.2M1698.8 1545.8h18M1698.8 1606.2h18M1908.6 1539.2V1590.4M1899.6 1539.2h18M1899.6 1590.4h18M2109.4 1530.7V1569.8M2100.4 1530.7h18M2100.4 1569.8h18M2310.2 1515.7V1562.6M2301.2 1515.7h18M2301.2 1562.6h18" fill="none" stroke="#f66d6d" stroke-width="2.6"/>
<path d="M1507 1579.5L1518.6 1597.3L1495.4 1597.3Z" fill="#f66d6d"/>
<path d="M1707.8 1564.4L1719.4 1582.2L1696.2 1582.2Z" fill="#f66d6d"/>
<path d="M1908.6 1553.2L1920.2 1571L1897 1571Z" fill="#f66d6d"/>
<path d="M2109.4 1538.6L2121 1556.4L2097.8 1556.4Z" fill="#f66d6d"/>
<path d="M2310.2 1527.6L2321.8 1545.4L2298.6 1545.4Z" fill="#f66d6d"/>
<rect x="1407" y="931.3" width="1003.5" height="754.9" fill="none" stroke="#000" stroke-width="5"/>
<path d="M1507 1686.2v-15M1607.4 1686.2v-15M1707.8 1686.2v-15M1808.2 1686.2v-15M1908.6 1686.2v-15M2009 1686.2v-15M2109.4 1686.2v-15M2209.8 1686.2v-15M2310.2 1686.2v-15M1407 1597.3h16" stroke="#000" stroke-width="5" fill="none"/>
<path d="M1456.8 1686.2v-8.5M1557.2 1686.2v-8.5M1657.6 1686.2v-8.5M1758 1686.2v-8.5M1858.4 1686.2v-8.5M1958.8 1686.2v-8.5M2059.2 1686.2v-8.5M2159.6 1686.2v-8.5M2260 1686.2v-8.5M2360.4 1686.2v-8.5M1407 1641.7h9M1407 1552.9h9M1407 1464h9M1407 1375.2h9M1407 1286.3h9M1407 1197.5h9M1407 1108.6h9M1407 1019.8h9" stroke="#000" stroke-width="4" fill="none"/>
<text transform="translate(1389.7 1699.7) scale(1.047 1)" font-size="48" text-anchor="end">-0.5</text>
<text transform="translate(1389.7 1610.9) scale(1.047 1)" font-size="48" text-anchor="end">0.0</text>
<text transform="translate(1389.7 1522) scale(1.047 1)" font-size="48" text-anchor="end">0.5</text>
<text transform="translate(1389.7 1433.2) scale(1.047 1)" font-size="48" text-anchor="end">1.0</text>
<text transform="translate(1389.7 1344.3) scale(1.047 1)" font-size="48" text-anchor="end">1.5</text>
<text transform="translate(1389.7 1255.5) scale(1.047 1)" font-size="48" text-anchor="end">2.0</text>
<text transform="translate(1389.7 1166.6) scale(1.047 1)" font-size="48" text-anchor="end">2.5</text>
<text transform="translate(1389.7 1077.8) scale(1.047 1)" font-size="48" text-anchor="end">3.0</text>
<text transform="translate(1389.7 989) scale(1.047 1)" font-size="48" text-anchor="end">3.5</text>
<text transform="translate(1404.6 1737.6) scale(1.130 1)" font-size="44" text-anchor="middle">-10</text>
<text transform="translate(1507 1737.6) scale(1.130 1)" font-size="44" text-anchor="middle">0</text>
<text transform="translate(1607.4 1737.6) scale(1.130 1)" font-size="44" text-anchor="middle">10</text>
<text transform="translate(1707.8 1737.6) scale(1.130 1)" font-size="44" text-anchor="middle">20</text>
<text transform="translate(1808.2 1737.6) scale(1.130 1)" font-size="44" text-anchor="middle">30</text>
<text transform="translate(1908.6 1737.6) scale(1.130 1)" font-size="44" text-anchor="middle">40</text>
<text transform="translate(2009 1737.6) scale(1.130 1)" font-size="44" text-anchor="middle">50</text>
<text transform="translate(2109.4 1737.6) scale(1.130 1)" font-size="44" text-anchor="middle">60</text>
<text transform="translate(2209.8 1737.6) scale(1.130 1)" font-size="44" text-anchor="middle">70</text>
<text transform="translate(2310.2 1737.6) scale(1.130 1)" font-size="44" text-anchor="middle">80</text>
<text transform="translate(2410.6 1737.6) scale(1.130 1)" font-size="44" text-anchor="middle">90</text>
<text x="1751" y="1818.2" font-size="49" font-weight="bold" textLength="120.3" lengthAdjust="spacingAndGlyphs">Time</text><text x="1861.1" y="1816.2" font-size="43" textLength="58" lengthAdjust="spacingAndGlyphs" font-family="'Liberation Serif','Noto Serif CJK SC',serif">（</text><text x="1925.4" y="1818.2" font-size="49" font-weight="bold" textLength="86.4" lengthAdjust="spacingAndGlyphs">min</text><text x="2016.3" y="1816.2" font-size="43" textLength="58" lengthAdjust="spacingAndGlyphs" font-family="'Liberation Serif','Noto Serif CJK SC',serif">）</text>
<text transform="translate(1281.5 1407.3) rotate(-90)" font-size="54.4" font-weight="bold" textLength="196.9" lengthAdjust="spacingAndGlyphs">-ln(C/C<tspan font-size="36.4" dy="14.1">0</tspan><tspan dy="-14.1">)</tspan></text>
<text x="1260.2" y="975.3" font-size="43.3" font-weight="bold" >(d)</text>
<line x1="1461.9" y1="980.4" x2="1548.4" y2="980.4" stroke="#3fcb75" stroke-width="3" />
<rect x="1496.8" y="972.3" width="16.1" height="16.1" fill="#3fcb75"/>
<text x="1555.3" y="994.3" font-size="25.4" font-weight="bold" fill="#3fcb75" textLength="144" lengthAdjust="spacingAndGlyphs" >No quencher</text>
<text x="1709.6" y="994.3" font-size="25.4" font-weight="bold" fill="#3fcb75" textLength="168.5" lengthAdjust="spacingAndGlyphs" >K=0.0325min<tspan font-size="16" dy="-10">-1</tspan></text>
<line x1="1461.9" y1="1023.4" x2="1548.4" y2="1023.4" stroke="#9a37ff" stroke-width="3" />
<circle cx="1504.9" cy="1023.4" r="9" fill="#9a37ff"/>
<text x="1555.3" y="1037.3" font-size="25.4" font-weight="bold" fill="#9a37ff" textLength="37.5" lengthAdjust="spacingAndGlyphs" >BQ</text>
<text x="1711.6" y="1037.3" font-size="25.4" font-weight="bold" fill="#9a37ff" textLength="168.5" lengthAdjust="spacingAndGlyphs" >K=0.0044min<tspan font-size="16" dy="-10">-1</tspan></text>
<line x1="1461.9" y1="1066.2" x2="1548.4" y2="1066.2" stroke="#f66d6d" stroke-width="3" />
<path d="M1504.9 1053.7L1515.9 1070.6L1493.9 1070.6Z" fill="#f66d6d"/>
<text x="1555.3" y="1080.1" font-size="25.4" font-weight="bold" fill="#f66d6d" textLength="36" lengthAdjust="spacingAndGlyphs" >TB</text>
<text x="1708" y="1080.1" font-size="25.4" font-weight="bold" fill="#f66d6d" textLength="168.5" lengthAdjust="spacingAndGlyphs" >K=0.0035min<tspan font-size="16" dy="-10">-1</tspan></text>
<line x1="1461.9" y1="1109.5" x2="1548.4" y2="1109.5" stroke="#b8730f" stroke-width="3" />
<path d="M1504.9 1122L1515.9 1105.1L1493.9 1105.1Z" fill="#b8730f"/>
<text x="1555.3" y="1123.4" font-size="25.4" font-weight="bold" fill="#b8860b" textLength="30" lengthAdjust="spacingAndGlyphs" >KI</text>
<text x="1709.6" y="1123.4" font-size="25.4" font-weight="bold" fill="#b8860b" textLength="168.5" lengthAdjust="spacingAndGlyphs" >K=0.0093min<tspan font-size="16" dy="-10">-1</tspan></text></g>
<g id="pe"><path d="M33 1961A151 130 0 0 1 184 1831H2265A175 142 0 0 1 2440 1973" fill="none" stroke="#4a7bab" stroke-width="3" stroke-dasharray="9 5.5"/>
<path d="M2440 1973V2577.5" fill="none" stroke="#4a7bab" stroke-width="3.4" stroke-dasharray="6.5 3"/>
<path d="M2440 2577.5A169 154 0 0 1 2271 2731.5H184A151 128 0 0 1 33 2603.5" fill="none" stroke="#4a7bab" stroke-width="3" stroke-dasharray="9 5.5"/>
<path d="M33 2603.5V1961" fill="none" stroke="#4a7bab" stroke-width="1.8" stroke-dasharray="9 4"/>
<text x="114.2" y="1902.1" font-size="43.9" font-weight="bold" >(e)</text>
<text x="80.6" y="1985.8" font-size="33" font-weight="bold" textLength="183.5" lengthAdjust="spacingAndGlyphs" >UV-vis light</text>
<path d="M143.1 2019.1L161.8 2038.5L194.2 2037.8L187.4 2062.4L206.1 2081.1L178.9 2096.4L171.4 2116.9L143.1 2106.6L115.2 2116.9L108.3 2096.4L80.7 2081.1L99.5 2062.4L92.7 2038.5L124.4 2038.5Z" fill="#ff0000"/>
<ellipse cx="143.8" cy="2072.6" rx="24.5" ry="18" fill="#c00000"/>
<path d="M214.7 2114.1L252.8 2171.4L236.1 2178.9L284.5 2227.5L268.6 2235.5L330.5 2322L227.6 2254.5L244.6 2244.3L185 2206.1L207.8 2193.5L142.4 2150.9Z" fill="#ffc000" stroke="#c09000" stroke-width="1.5" stroke-linejoin="miter"/>
<path d="M518.1 2391.9L586.3 2428.7L698.7 2285.6L731.1 2303.3L707.2 2207.9L595.5 2228.7L627.2 2246.4Z" fill="url(#gArrow)"/>
<path d="M860 2043L1273 2013L1240 2305L805 2192Z" fill="url(#gCone)"/>
<g><ellipse cx="783.8" cy="2103.9" rx="117" ry="89" fill="url(#gBall)"/>
<ellipse cx="898.8" cy="2102.7" rx="10" ry="4.1" transform="rotate(64.5 898.8 2102.7)" fill="#0e9fb2"/>
<ellipse cx="898.2" cy="2113" rx="8.6" ry="4.1" transform="rotate(126.5 898.2 2113)" fill="#12aebd"/>
<ellipse cx="897.3" cy="2118.1" rx="10.5" ry="4.2" transform="rotate(96.9 897.3 2118.1)" fill="#1fcfd9"/>
<ellipse cx="893.6" cy="2129.7" rx="10.9" ry="4.1" transform="rotate(104.8 893.6 2129.7)" fill="#18b4b8"/>
<ellipse cx="890.3" cy="2136.7" rx="9.7" ry="4.8" transform="rotate(120.8 890.3 2136.7)" fill="#15abb3"/>
<ellipse cx="884.9" cy="2145.4" rx="9.1" ry="4.8" transform="rotate(135 884.9 2145.4)" fill="#1abec6"/>
<ellipse cx="878.8" cy="2152.9" rx="9.6" ry="5.2" transform="rotate(131.4 878.8 2152.9)" fill="#0f8a8e"/>
<ellipse cx="873.5" cy="2158.3" rx="8.5" ry="5.2" transform="rotate(118.7 873.5 2158.3)" fill="#18b4b8"/>
<ellipse cx="865" cy="2165.5" rx="10.2" ry="4.4" transform="rotate(168.9 865 2165.5)" fill="#159a84"/>
<ellipse cx="856.7" cy="2171.2" rx="9" ry="5.4" transform="rotate(124.4 856.7 2171.2)" fill="#0e7464"/>
<ellipse cx="850.9" cy="2174.6" rx="10.4" ry="5.2" transform="rotate(155.2 850.9 2174.6)" fill="#19a890"/>
<ellipse cx="837.2" cy="2180.9" rx="9.4" ry="5.3" transform="rotate(163.7 837.2 2180.9)" fill="#0f7e68"/>
<ellipse cx="826.1" cy="2184.8" rx="10.2" ry="4.5" transform="rotate(132.7 826.1 2184.8)" fill="#0e7464"/>
<ellipse cx="814.3" cy="2187.8" rx="9.2" ry="5" transform="rotate(153 814.3 2187.8)" fill="#0f7e68"/>
<ellipse cx="807.5" cy="2189" rx="9.5" ry="4.3" transform="rotate(178.6 807.5 2189)" fill="#0e7464"/>
<ellipse cx="797.4" cy="2190.3" rx="10.6" ry="4.1" transform="rotate(167.2 797.4 2190.3)" fill="#17a08c"/>
<ellipse cx="785.8" cy="2190.9" rx="9.3" ry="4.8" transform="rotate(153.8 785.8 2190.9)" fill="#19a890"/>
<ellipse cx="770.9" cy="2190.3" rx="8.7" ry="4.1" transform="rotate(176.6 770.9 2190.3)" fill="#0e7464"/>
<ellipse cx="763.8" cy="2189.6" rx="9.8" ry="4.4" transform="rotate(186.7 763.8 2189.6)" fill="#0f7e68"/>
<ellipse cx="750.1" cy="2187.1" rx="9" ry="4.2" transform="rotate(200.9 750.1 2187.1)" fill="#17a08c"/>
<ellipse cx="738.5" cy="2183.9" rx="9.4" ry="5.3" transform="rotate(215 738.5 2183.9)" fill="#0e7464"/>
<ellipse cx="727.2" cy="2179.6" rx="9.2" ry="4.2" transform="rotate(195.9 727.2 2179.6)" fill="#159a84"/>
<ellipse cx="722.3" cy="2177.4" rx="9.3" ry="4.2" transform="rotate(239.8 722.3 2177.4)" fill="#159a84"/>
<ellipse cx="714.5" cy="2173.3" rx="8.3" ry="4.5" transform="rotate(185.7 714.5 2173.3)" fill="#1bb09a"/>
<ellipse cx="704.4" cy="2166.8" rx="9.9" ry="5.4" transform="rotate(207.5 704.4 2166.8)" fill="#0f7e68"/>
<ellipse cx="697.1" cy="2161.1" rx="11" ry="4.7" transform="rotate(245.7 697.1 2161.1)" fill="#159a84"/>
<ellipse cx="690" cy="2154.3" rx="10.2" ry="4.7" transform="rotate(244.7 690 2154.3)" fill="#17a08c"/>
<ellipse cx="684.5" cy="2147.8" rx="9.6" ry="4.2" transform="rotate(264.2 684.5 2147.8)" fill="#159a84"/>
<ellipse cx="676.7" cy="2135.5" rx="9.9" ry="4.1" transform="rotate(228.9 676.7 2135.5)" fill="#17a08c"/>
<ellipse cx="674.1" cy="2130" rx="10.3" ry="4.8" transform="rotate(224.4 674.1 2130)" fill="#19a890"/>
<ellipse cx="670.8" cy="2119.9" rx="10.4" ry="5.1" transform="rotate(264.2 670.8 2119.9)" fill="#1099a6"/>
<ellipse cx="669.1" cy="2110.2" rx="8.7" ry="4.8" transform="rotate(281.4 669.1 2110.2)" fill="#1abec6"/>
<ellipse cx="668.9" cy="2100.5" rx="9.4" ry="4.3" transform="rotate(-66.8 668.9 2100.5)" fill="#0e90a6"/>
<ellipse cx="669.3" cy="2095.7" rx="11" ry="5.4" transform="rotate(-52.4 669.3 2095.7)" fill="#1099a6"/>
<ellipse cx="670.4" cy="2089.7" rx="9" ry="4.7" transform="rotate(-79.9 670.4 2089.7)" fill="#1abec6"/>
<ellipse cx="673.7" cy="2078.8" rx="10.4" ry="4.1" transform="rotate(-57.8 673.7 2078.8)" fill="#1fc4c8"/>
<ellipse cx="678.6" cy="2068.8" rx="9.4" ry="4.3" transform="rotate(-42.6 678.6 2068.8)" fill="#0e90a6"/>
<ellipse cx="680.6" cy="2065.4" rx="10.2" ry="4.7" transform="rotate(-26 680.6 2065.4)" fill="#17bcc8"/>
<ellipse cx="689.3" cy="2054.3" rx="8.4" ry="4.2" transform="rotate(-70.9 689.3 2054.3)" fill="#33dfe8"/>
<ellipse cx="695.6" cy="2048.1" rx="9.4" ry="5.4" transform="rotate(-35.8 695.6 2048.1)" fill="#0f8e9c"/>
<ellipse cx="700.1" cy="2044.2" rx="10.9" ry="5" transform="rotate(-73.1 700.1 2044.2)" fill="#33dfe8"/>
<ellipse cx="710.4" cy="2036.9" rx="10.5" ry="4.3" transform="rotate(-6.4 710.4 2036.9)" fill="#1bc6cf"/>
<ellipse cx="719.9" cy="2031.6" rx="9" ry="4.8" transform="rotate(-8.7 719.9 2031.6)" fill="#1fcfd9"/>
<ellipse cx="732.9" cy="2025.9" rx="9.4" ry="4.9" transform="rotate(-30.9 732.9 2025.9)" fill="#19b9cc"/>
<ellipse cx="742.6" cy="2022.7" rx="8.4" ry="4.2" transform="rotate(10.1 742.6 2022.7)" fill="#25d2dc"/>
<ellipse cx="752.9" cy="2020.1" rx="10.3" ry="4.2" transform="rotate(-4.5 752.9 2020.1)" fill="#17bcc8"/>
<ellipse cx="761.9" cy="2018.5" rx="9.6" ry="4.8" transform="rotate(-20.7 761.9 2018.5)" fill="#17bcc8"/>
<ellipse cx="776" cy="2017.1" rx="8.6" ry="4.1" transform="rotate(-34 776 2017.1)" fill="#25d2dc"/>
<ellipse cx="784.4" cy="2016.9" rx="10.7" ry="4.7" transform="rotate(18.4 784.4 2016.9)" fill="#0f8e9c"/>
<ellipse cx="796" cy="2017.4" rx="8.8" ry="4.8" transform="rotate(-16.3 796 2017.4)" fill="#0f8e9c"/>
<ellipse cx="810.2" cy="2019.2" rx="10.6" ry="5.4" transform="rotate(24.2 810.2 2019.2)" fill="#0f8e9c"/>
<ellipse cx="820.6" cy="2021.5" rx="9.3" ry="4.6" transform="rotate(-6.3 820.6 2021.5)" fill="#0e9fb2"/>
<ellipse cx="824.2" cy="2022.4" rx="8.2" ry="5" transform="rotate(-2.1 824.2 2022.4)" fill="#33dfe8"/>
<ellipse cx="841.5" cy="2028.7" rx="9.1" ry="4.4" transform="rotate(34 841.5 2028.7)" fill="#25d2dc"/>
<ellipse cx="845.5" cy="2030.5" rx="9.2" ry="4.7" transform="rotate(57.7 845.5 2030.5)" fill="#12aebd"/>
<ellipse cx="854.3" cy="2035.2" rx="9.5" ry="4.5" transform="rotate(26 854.3 2035.2)" fill="#0e9fb2"/>
<ellipse cx="862.4" cy="2040.4" rx="9" ry="4.7" transform="rotate(26.3 862.4 2040.4)" fill="#19b9cc"/>
<ellipse cx="871.7" cy="2047.8" rx="9.5" ry="4.1" transform="rotate(50.9 871.7 2047.8)" fill="#12aebd"/>
<ellipse cx="881.8" cy="2058.3" rx="8.8" ry="4.1" transform="rotate(23.6 881.8 2058.3)" fill="#1bc6cf"/>
<ellipse cx="886.3" cy="2064.5" rx="10.5" ry="5" transform="rotate(78.8 886.3 2064.5)" fill="#19b9cc"/>
<ellipse cx="888.8" cy="2068.4" rx="9.7" ry="5.1" transform="rotate(89.1 888.8 2068.4)" fill="#1fcfd9"/>
<ellipse cx="894.6" cy="2080.6" rx="10.7" ry="4.4" transform="rotate(47.9 894.6 2080.6)" fill="#17bcc8"/>
<ellipse cx="897.1" cy="2089" rx="10.6" ry="4.1" transform="rotate(48.1 897.1 2089)" fill="#25d2dc"/>
<ellipse cx="897.7" cy="2092" rx="9.3" ry="5.4" transform="rotate(114.4 897.7 2092)" fill="#1fcfd9"/>
<ellipse cx="766.2" cy="2031.2" rx="16.2" ry="5.7" transform="rotate(134.2 766.2 2031.2)" fill="#0e9fb2"/>
<ellipse cx="759.2" cy="2026.4" rx="16.8" ry="5.3" transform="rotate(13.5 759.2 2026.4)" fill="#0e9fb2"/>
<ellipse cx="837.4" cy="2036.5" rx="16.9" ry="6.3" transform="rotate(129.1 837.4 2036.5)" fill="#19b9cc"/>
<ellipse cx="809.1" cy="2027.9" rx="13.1" ry="7.1" transform="rotate(74.3 809.1 2027.9)" fill="#0f8e9c"/>
<ellipse cx="844.6" cy="2045.6" rx="14.4" ry="4.1" transform="rotate(149.6 844.6 2045.6)" fill="#1bc6cf"/>
<ellipse cx="832.8" cy="2045.5" rx="16.9" ry="7.3" transform="rotate(178.1 832.8 2045.5)" fill="#1bc6cf"/>
<ellipse cx="764.8" cy="2042.6" rx="15.3" ry="4.4" transform="rotate(28.2 764.8 2042.6)" fill="#0f8e9c"/>
<ellipse cx="805.8" cy="2028.8" rx="10.4" ry="5.5" transform="rotate(174.7 805.8 2028.8)" fill="#19b9cc"/>
<ellipse cx="845.3" cy="2048.2" rx="12.4" ry="6.1" transform="rotate(107.5 845.3 2048.2)" fill="#25d2dc"/>
<ellipse cx="739.4" cy="2032.7" rx="14.9" ry="7.3" transform="rotate(175.3 739.4 2032.7)" fill="#1fcfd9"/>
<ellipse cx="755.3" cy="2035.1" rx="11.2" ry="6.6" transform="rotate(55.9 755.3 2035.1)" fill="#0f8e9c"/>
<ellipse cx="781.5" cy="2023.4" rx="15.2" ry="6" transform="rotate(143.6 781.5 2023.4)" fill="#17bcc8"/>
<ellipse cx="730.3" cy="2039.3" rx="11.6" ry="7.1" transform="rotate(25.7 730.3 2039.3)" fill="#19b9cc"/>
<ellipse cx="800.5" cy="2048.6" rx="16.6" ry="4.9" transform="rotate(146.7 800.5 2048.6)" fill="#17bcc8"/>
<ellipse cx="775.7" cy="2049.6" rx="10.5" ry="7.2" transform="rotate(167.3 775.7 2049.6)" fill="#12aebd"/>
<ellipse cx="778.9" cy="2044.4" rx="14.5" ry="5.2" transform="rotate(142.6 778.9 2044.4)" fill="#0e9fb2"/>
<ellipse cx="743" cy="2032.2" rx="15" ry="7.7" transform="rotate(71.2 743 2032.2)" fill="#19b9cc"/>
<ellipse cx="778.6" cy="2025.5" rx="12.6" ry="5.4" transform="rotate(142.7 778.6 2025.5)" fill="#33dfe8"/>
<ellipse cx="741.8" cy="2040.8" rx="16.7" ry="4.6" transform="rotate(55.6 741.8 2040.8)" fill="#1bc6cf"/>
<ellipse cx="795.1" cy="2027.4" rx="11.8" ry="6.1" transform="rotate(165.4 795.1 2027.4)" fill="#25d2dc"/>
<ellipse cx="723.5" cy="2042.6" rx="11.9" ry="6.3" transform="rotate(85 723.5 2042.6)" fill="#1fcfd9"/>
<ellipse cx="707.4" cy="2058.8" rx="15" ry="6.2" transform="rotate(10.2 707.4 2058.8)" fill="#1bc6cf"/>
<ellipse cx="775.2" cy="2037.1" rx="15.4" ry="4.9" transform="rotate(145.2 775.2 2037.1)" fill="#0f8e9c"/>
<ellipse cx="707.1" cy="2055.9" rx="14.2" ry="6.6" transform="rotate(45.9 707.1 2055.9)" fill="#0e9fb2"/>
<ellipse cx="847.8" cy="2048.3" rx="10.5" ry="6.5" transform="rotate(149.9 847.8 2048.3)" fill="#25d2dc"/>
<ellipse cx="851.1" cy="2046.6" rx="15.8" ry="7.2" transform="rotate(119.9 851.1 2046.6)" fill="#0f8e9c"/>
<ellipse cx="845" cy="2058.9" rx="15.9" ry="7.3" transform="rotate(72.8 845 2058.9)" fill="#19b9cc"/>
<ellipse cx="752.8" cy="2040.1" rx="11.6" ry="6.3" transform="rotate(64.3 752.8 2040.1)" fill="#25d2dc"/>
<ellipse cx="711.5" cy="2055" rx="12.7" ry="4.2" transform="rotate(54.6 711.5 2055)" fill="#33dfe8"/>
<ellipse cx="789.6" cy="2061.5" rx="11.1" ry="4.2" transform="rotate(19.7 789.6 2061.5)" fill="#1bc6cf"/>
<ellipse cx="724.2" cy="2070" rx="12.9" ry="5.5" transform="rotate(112.6 724.2 2070)" fill="#1fcfd9"/>
<ellipse cx="822.5" cy="2028.9" rx="15.4" ry="5.4" transform="rotate(57.3 822.5 2028.9)" fill="#19b9cc"/>
<ellipse cx="778.5" cy="2060.9" rx="16.7" ry="6.8" transform="rotate(44.5 778.5 2060.9)" fill="#25d2dc"/>
<ellipse cx="794.3" cy="2073.4" rx="13.3" ry="5.2" transform="rotate(15.5 794.3 2073.4)" fill="#25d2dc"/>
<ellipse cx="750.6" cy="2045.9" rx="10.3" ry="6.8" transform="rotate(5.2 750.6 2045.9)" fill="#1fcfd9"/>
<ellipse cx="853.5" cy="2042.8" rx="15.2" ry="7.8" transform="rotate(67.1 853.5 2042.8)" fill="#0e9fb2"/>
<ellipse cx="809.5" cy="2063.3" rx="16.5" ry="7.4" transform="rotate(7.9 809.5 2063.3)" fill="#25d2dc"/>
<ellipse cx="731.2" cy="2065.1" rx="11.3" ry="4.9" transform="rotate(79.1 731.2 2065.1)" fill="#12aebd"/>
<ellipse cx="836.8" cy="2065.3" rx="14.2" ry="6.5" transform="rotate(64.7 836.8 2065.3)" fill="#0e9fb2"/>
<ellipse cx="727.7" cy="2062.1" rx="13.1" ry="7.7" transform="rotate(92.8 727.7 2062.1)" fill="#33dfe8"/>
<ellipse cx="817.2" cy="2071.6" rx="12.8" ry="4.7" transform="rotate(100.3 817.2 2071.6)" fill="#25d2dc"/>
<ellipse cx="802.4" cy="2057.5" rx="12" ry="4.4" transform="rotate(166.6 802.4 2057.5)" fill="#33dfe8"/>
<ellipse cx="769" cy="2031.9" rx="12.7" ry="6" transform="rotate(119.7 769 2031.9)" fill="#1bc6cf"/>
<ellipse cx="739.2" cy="2040.3" rx="13.1" ry="4.1" transform="rotate(131.6 739.2 2040.3)" fill="#12aebd"/>
<ellipse cx="868.2" cy="2076" rx="15.8" ry="7.6" transform="rotate(1.9 868.2 2076)" fill="#12aebd"/>
<ellipse cx="750" cy="2037.7" rx="11.8" ry="6.3" transform="rotate(43 750 2037.7)" fill="#19b9cc"/>
<ellipse cx="759.8" cy="2059.1" rx="10.1" ry="5.2" transform="rotate(108.2 759.8 2059.1)" fill="#12aebd"/>
<ellipse cx="805.1" cy="2076.6" rx="14.9" ry="6.5" transform="rotate(117.3 805.1 2076.6)" fill="#25d2dc"/>
<ellipse cx="846.2" cy="2050.1" rx="14.3" ry="7.1" transform="rotate(160.4 846.2 2050.1)" fill="#1bc6cf"/>
<ellipse cx="719.9" cy="2041.5" rx="12.5" ry="5.5" transform="rotate(131.1 719.9 2041.5)" fill="#1fcfd9"/>
<ellipse cx="853.7" cy="2070.3" rx="12.8" ry="6" transform="rotate(149 853.7 2070.3)" fill="#12aebd"/>
<ellipse cx="821.7" cy="2071.3" rx="15.3" ry="4.4" transform="rotate(106.5 821.7 2071.3)" fill="#17bcc8"/>
<ellipse cx="730" cy="2040.6" rx="13.7" ry="6.7" transform="rotate(27.8 730 2040.6)" fill="#25d2dc"/>
<ellipse cx="835.2" cy="2069.4" rx="14.9" ry="4.9" transform="rotate(81.7 835.2 2069.4)" fill="#0e9fb2"/>
<ellipse cx="790.5" cy="2088.7" rx="10.4" ry="7.1" transform="rotate(42.8 790.5 2088.7)" fill="#12aebd"/>
<ellipse cx="736.7" cy="2079.8" rx="10.9" ry="7.9" transform="rotate(172 736.7 2079.8)" fill="#1bc6cf"/>
<ellipse cx="795.4" cy="2088.7" rx="12.8" ry="4.4" transform="rotate(103.3 795.4 2088.7)" fill="#0f8a8e"/>
<ellipse cx="753.7" cy="2047.1" rx="15.7" ry="4.8" transform="rotate(174.7 753.7 2047.1)" fill="#1fcfd9"/>
<ellipse cx="819" cy="2078.2" rx="14.9" ry="4.4" transform="rotate(28.1 819 2078.2)" fill="#33dfe8"/>
<ellipse cx="765.3" cy="2087.5" rx="10.2" ry="7.5" transform="rotate(128.1 765.3 2087.5)" fill="#19b9cc"/>
<ellipse cx="801.5" cy="2091.9" rx="13.1" ry="5.8" transform="rotate(118.6 801.5 2091.9)" fill="#25d2dc"/>
<ellipse cx="797.6" cy="2059.8" rx="13.6" ry="7.7" transform="rotate(89.6 797.6 2059.8)" fill="#1fcfd9"/>
<ellipse cx="868.5" cy="2071.5" rx="12.2" ry="6.5" transform="rotate(96.6 868.5 2071.5)" fill="#19b9cc"/>
<ellipse cx="725.1" cy="2091.1" rx="17" ry="5.8" transform="rotate(71.5 725.1 2091.1)" fill="#1abec6"/>
<ellipse cx="814.7" cy="2086.2" rx="16.6" ry="5.7" transform="rotate(72.9 814.7 2086.2)" fill="#17bcc8"/>
<ellipse cx="835.7" cy="2075.8" rx="15.8" ry="5.3" transform="rotate(33.2 835.7 2075.8)" fill="#0e9fb2"/>
<ellipse cx="738.5" cy="2045.7" rx="16.9" ry="4.6" transform="rotate(160.3 738.5 2045.7)" fill="#0f8e9c"/>
<ellipse cx="794.7" cy="2053.6" rx="16.5" ry="4.4" transform="rotate(85.5 794.7 2053.6)" fill="#25d2dc"/>
<ellipse cx="704.3" cy="2092.7" rx="13.1" ry="6" transform="rotate(16.5 704.3 2092.7)" fill="#15abb3"/>
<ellipse cx="730.1" cy="2091.3" rx="12.6" ry="6.1" transform="rotate(113.9 730.1 2091.3)" fill="#1abec6"/>
<ellipse cx="766.9" cy="2059.9" rx="16.2" ry="7.1" transform="rotate(130 766.9 2059.9)" fill="#33dfe8"/>
<ellipse cx="839.1" cy="2054.1" rx="10.6" ry="5.2" transform="rotate(129.4 839.1 2054.1)" fill="#0e9fb2"/>
<ellipse cx="751.2" cy="2050" rx="16.7" ry="7.7" transform="rotate(10.9 751.2 2050)" fill="#0f8e9c"/>
<ellipse cx="698.5" cy="2086.9" rx="14.5" ry="4.4" transform="rotate(99 698.5 2086.9)" fill="#1fc4c8"/>
<ellipse cx="719.8" cy="2052.2" rx="10.4" ry="6.2" transform="rotate(15.1 719.8 2052.2)" fill="#17bcc8"/>
<ellipse cx="707.2" cy="2055.2" rx="13.5" ry="6.6" transform="rotate(109.5 707.2 2055.2)" fill="#1bc6cf"/>
<ellipse cx="790.5" cy="2056.3" rx="14.7" ry="5.1" transform="rotate(80.2 790.5 2056.3)" fill="#1fcfd9"/>
<ellipse cx="872" cy="2058.3" rx="11" ry="4.7" transform="rotate(102.8 872 2058.3)" fill="#12aebd"/>
<ellipse cx="699.7" cy="2056.2" rx="10.2" ry="7.4" transform="rotate(20.2 699.7 2056.2)" fill="#1bc6cf"/>
<ellipse cx="727.6" cy="2083.2" rx="12.8" ry="6.5" transform="rotate(35.8 727.6 2083.2)" fill="#19b9cc"/>
<ellipse cx="778.5" cy="2089.7" rx="14.5" ry="4.8" transform="rotate(18.4 778.5 2089.7)" fill="#1fcfd9"/>
<ellipse cx="721.4" cy="2091.1" rx="16.8" ry="4.7" transform="rotate(177.9 721.4 2091.1)" fill="#1099a6"/>
<ellipse cx="849.6" cy="2068.8" rx="11.8" ry="5.7" transform="rotate(0.3 849.6 2068.8)" fill="#1fcfd9"/>
<ellipse cx="815" cy="2092.9" rx="15.7" ry="7.9" transform="rotate(56.2 815 2092.9)" fill="#25d2dc"/>
<ellipse cx="698.7" cy="2099.8" rx="15.9" ry="7.7" transform="rotate(147.4 698.7 2099.8)" fill="#15abb3"/>
<ellipse cx="816.5" cy="2063.6" rx="11" ry="4.1" transform="rotate(44.3 816.5 2063.6)" fill="#1bc6cf"/>
<ellipse cx="813.1" cy="2098.1" rx="13.1" ry="5.4" transform="rotate(42.9 813.1 2098.1)" fill="#1bc6cf"/>
<ellipse cx="766.3" cy="2062.9" rx="14" ry="5.2" transform="rotate(4.6 766.3 2062.9)" fill="#17bcc8"/>
<ellipse cx="884.3" cy="2087.1" rx="11.1" ry="7.8" transform="rotate(166.4 884.3 2087.1)" fill="#1bc6cf"/>
<ellipse cx="836.3" cy="2098.3" rx="13.2" ry="4.9" transform="rotate(133.5 836.3 2098.3)" fill="#1fcfd9"/>
<ellipse cx="832.4" cy="2090.3" rx="10.8" ry="5.3" transform="rotate(67.7 832.4 2090.3)" fill="#19b9cc"/>
<ellipse cx="782.6" cy="2103.8" rx="12.1" ry="6.3" transform="rotate(28.3 782.6 2103.8)" fill="#26d0d4"/>
<ellipse cx="852.3" cy="2060.3" rx="15.3" ry="5.2" transform="rotate(39.9 852.3 2060.3)" fill="#33dfe8"/>
<ellipse cx="764.3" cy="2083.1" rx="10.5" ry="4.1" transform="rotate(111.8 764.3 2083.1)" fill="#19b9cc"/>
<ellipse cx="700.1" cy="2102.4" rx="16.8" ry="4.8" transform="rotate(144.9 700.1 2102.4)" fill="#0f8a8e"/>
<ellipse cx="802.5" cy="2061.9" rx="10.8" ry="5.7" transform="rotate(113.3 802.5 2061.9)" fill="#33dfe8"/>
<ellipse cx="795.6" cy="2098.6" rx="11.7" ry="5.5" transform="rotate(143.1 795.6 2098.6)" fill="#12aebd"/>
<ellipse cx="856.1" cy="2064" rx="10.8" ry="7.2" transform="rotate(10.4 856.1 2064)" fill="#19b9cc"/>
<ellipse cx="818.1" cy="2083.2" rx="12.9" ry="6.1" transform="rotate(104.5 818.1 2083.2)" fill="#17bcc8"/>
<ellipse cx="804.9" cy="2097.6" rx="15.8" ry="4.5" transform="rotate(137.9 804.9 2097.6)" fill="#12aebd"/>
<ellipse cx="831.9" cy="2084.3" rx="15.6" ry="6.7" transform="rotate(0.8 831.9 2084.3)" fill="#0f8e9c"/>
<ellipse cx="764.4" cy="2104" rx="16.5" ry="4.6" transform="rotate(116.7 764.4 2104)" fill="#1fc4c8"/>
<ellipse cx="712.8" cy="2079.2" rx="14.5" ry="4.5" transform="rotate(16.7 712.8 2079.2)" fill="#25d2dc"/>
<ellipse cx="730.2" cy="2065.9" rx="11.3" ry="5.5" transform="rotate(92 730.2 2065.9)" fill="#19b9cc"/>
<ellipse cx="855.3" cy="2080.3" rx="13.6" ry="8" transform="rotate(137.3 855.3 2080.3)" fill="#19b9cc"/>
<ellipse cx="819.7" cy="2075.4" rx="13.2" ry="7.4" transform="rotate(70.2 819.7 2075.4)" fill="#1bc6cf"/>
<ellipse cx="760.2" cy="2080.8" rx="12.5" ry="7.8" transform="rotate(107 760.2 2080.8)" fill="#17bcc8"/>
<ellipse cx="845.4" cy="2072.6" rx="10" ry="5.2" transform="rotate(124.3 845.4 2072.6)" fill="#1fcfd9"/>
<ellipse cx="695.1" cy="2105.1" rx="16.3" ry="7.4" transform="rotate(30.6 695.1 2105.1)" fill="#0e90a6"/>
<ellipse cx="856.7" cy="2083.6" rx="16.7" ry="4.3" transform="rotate(75.4 856.7 2083.6)" fill="#1fcfd9"/>
<ellipse cx="782.5" cy="2084.9" rx="14.8" ry="7.1" transform="rotate(86.2 782.5 2084.9)" fill="#17bcc8"/>
<ellipse cx="866.9" cy="2091.1" rx="12" ry="6" transform="rotate(28.2 866.9 2091.1)" fill="#33dfe8"/>
<ellipse cx="731.7" cy="2068.7" rx="12.6" ry="5.3" transform="rotate(128.8 731.7 2068.7)" fill="#1bc6cf"/>
<ellipse cx="814.1" cy="2096.4" rx="14.4" ry="4.4" transform="rotate(56.3 814.1 2096.4)" fill="#26d0d4"/>
<ellipse cx="778.4" cy="2104.3" rx="13.5" ry="4" transform="rotate(36.2 778.4 2104.3)" fill="#19b9cc"/>
<ellipse cx="703.7" cy="2104.5" rx="16" ry="4.9" transform="rotate(113.3 703.7 2104.5)" fill="#1fc4c8"/>
<ellipse cx="800.4" cy="2081.3" rx="13.1" ry="4.7" transform="rotate(137.6 800.4 2081.3)" fill="#0f8e9c"/>
<ellipse cx="874.1" cy="2073.7" rx="10.6" ry="7" transform="rotate(129.7 874.1 2073.7)" fill="#33dfe8"/>
<ellipse cx="785.5" cy="2105.6" rx="15.5" ry="7.8" transform="rotate(79.7 785.5 2105.6)" fill="#1abec6"/>
<ellipse cx="834.6" cy="2099.8" rx="11.7" ry="6.5" transform="rotate(113.7 834.6 2099.8)" fill="#25d2dc"/>
<ellipse cx="754.7" cy="2076.2" rx="12.3" ry="4.1" transform="rotate(177.3 754.7 2076.2)" fill="#33dfe8"/>
<ellipse cx="777.8" cy="2108.9" rx="10.2" ry="7.8" transform="rotate(1.1 777.8 2108.9)" fill="#1099a6"/>
<ellipse cx="748.9" cy="2080" rx="14.3" ry="7.4" transform="rotate(121.6 748.9 2080)" fill="#25d2dc"/>
<ellipse cx="741" cy="2109.9" rx="13" ry="5.5" transform="rotate(144.5 741 2109.9)" fill="#0e90a6"/>
<ellipse cx="876.2" cy="2094.2" rx="16.2" ry="7.7" transform="rotate(92.1 876.2 2094.2)" fill="#17bcc8"/>
<ellipse cx="703.1" cy="2102.9" rx="12" ry="4.5" transform="rotate(90.1 703.1 2102.9)" fill="#1099a6"/>
<ellipse cx="760.6" cy="2117.7" rx="11.2" ry="4.1" transform="rotate(101.7 760.6 2117.7)" fill="#26d0d4"/>
<ellipse cx="810.9" cy="2108.5" rx="15.3" ry="4.4" transform="rotate(78.7 810.9 2108.5)" fill="#1099a6"/>
<ellipse cx="794.6" cy="2096.3" rx="15.3" ry="5.7" transform="rotate(59.9 794.6 2096.3)" fill="#33dfe8"/>
<ellipse cx="775.4" cy="2111.7" rx="13.3" ry="5.2" transform="rotate(110.3 775.4 2111.7)" fill="#1fc4c8"/>
<ellipse cx="830.5" cy="2081.6" rx="10" ry="5.2" transform="rotate(71.3 830.5 2081.6)" fill="#25d2dc"/>
<ellipse cx="804.1" cy="2116.6" rx="13.6" ry="6" transform="rotate(108.3 804.1 2116.6)" fill="#1fcfd9"/>
<ellipse cx="730.3" cy="2091.5" rx="14.4" ry="5.6" transform="rotate(81.9 730.3 2091.5)" fill="#26d0d4"/>
<ellipse cx="724.1" cy="2108.3" rx="16.6" ry="5.8" transform="rotate(62.8 724.1 2108.3)" fill="#0f8a8e"/>
<ellipse cx="762.9" cy="2106.7" rx="10.3" ry="8" transform="rotate(26.8 762.9 2106.7)" fill="#25d2dc"/>
<ellipse cx="829.9" cy="2080.2" rx="11.9" ry="4.4" transform="rotate(30.5 829.9 2080.2)" fill="#0e9fb2"/>
<ellipse cx="802.5" cy="2082.5" rx="14.3" ry="4.9" transform="rotate(44.3 802.5 2082.5)" fill="#0f8e9c"/>
<ellipse cx="805.8" cy="2079.4" rx="16.7" ry="5" transform="rotate(42.5 805.8 2079.4)" fill="#26d0d4"/>
<ellipse cx="677.7" cy="2102.4" rx="15.6" ry="4.7" transform="rotate(88.5 677.7 2102.4)" fill="#18b4b8"/>
<ellipse cx="746.6" cy="2087.1" rx="13.6" ry="4.9" transform="rotate(178.6 746.6 2087.1)" fill="#1abec6"/>
<ellipse cx="884" cy="2102.3" rx="16.5" ry="7.7" transform="rotate(13.2 884 2102.3)" fill="#25d2dc"/>
<ellipse cx="757" cy="2084.4" rx="15.7" ry="7.7" transform="rotate(79.4 757 2084.4)" fill="#12aebd"/>
<ellipse cx="853.7" cy="2117.5" rx="14.8" ry="6.8" transform="rotate(160.7 853.7 2117.5)" fill="#33dfe8"/>
<ellipse cx="718.9" cy="2103.6" rx="11.9" ry="6.6" transform="rotate(99.6 718.9 2103.6)" fill="#1099a6"/>
<ellipse cx="734.3" cy="2125.1" rx="14.9" ry="5.7" transform="rotate(113.8 734.3 2125.1)" fill="#15abb3"/>
<ellipse cx="717.9" cy="2085.9" rx="12.7" ry="7.4" transform="rotate(108.2 717.9 2085.9)" fill="#0f8a8e"/>
<ellipse cx="741.8" cy="2120.5" rx="13.5" ry="7.8" transform="rotate(172.8 741.8 2120.5)" fill="#1099a6"/>
<ellipse cx="781.8" cy="2098.6" rx="15.6" ry="6.6" transform="rotate(77.5 781.8 2098.6)" fill="#26d0d4"/>
<ellipse cx="822.1" cy="2100.9" rx="15.6" ry="5.4" transform="rotate(145 822.1 2100.9)" fill="#25d2dc"/>
<ellipse cx="783.4" cy="2110.3" rx="10" ry="7.4" transform="rotate(155.3 783.4 2110.3)" fill="#18b4b8"/>
<ellipse cx="739" cy="2113.9" rx="13.7" ry="5.5" transform="rotate(20.7 739 2113.9)" fill="#15abb3"/>
<ellipse cx="802.4" cy="2086.7" rx="14.4" ry="4.3" transform="rotate(53.9 802.4 2086.7)" fill="#26d0d4"/>
<ellipse cx="850.2" cy="2116.1" rx="13.1" ry="4.1" transform="rotate(165.4 850.2 2116.1)" fill="#26d0d4"/>
<ellipse cx="776.4" cy="2095.3" rx="15.7" ry="7.3" transform="rotate(111.3 776.4 2095.3)" fill="#17bcc8"/>
<ellipse cx="836.4" cy="2099.7" rx="15.9" ry="4.9" transform="rotate(145.7 836.4 2099.7)" fill="#25d2dc"/>
<ellipse cx="695.9" cy="2123.7" rx="13.5" ry="4.6" transform="rotate(66.8 695.9 2123.7)" fill="#159a84"/>
<ellipse cx="781.5" cy="2112.7" rx="14" ry="4.5" transform="rotate(40.8 781.5 2112.7)" fill="#15abb3"/>
<ellipse cx="852.7" cy="2093" rx="13.3" ry="5.5" transform="rotate(8.9 852.7 2093)" fill="#0e9fb2"/>
<ellipse cx="854.7" cy="2120.3" rx="13" ry="7.6" transform="rotate(55.5 854.7 2120.3)" fill="#1099a6"/>
<ellipse cx="872.7" cy="2124.7" rx="14.1" ry="4.4" transform="rotate(121.5 872.7 2124.7)" fill="#1099a6"/>
<ellipse cx="722.3" cy="2131" rx="15.3" ry="4.4" transform="rotate(82.4 722.3 2131)" fill="#15abb3"/>
<ellipse cx="681.2" cy="2114.6" rx="16.4" ry="6" transform="rotate(104.1 681.2 2114.6)" fill="#1bb09a"/>
<ellipse cx="871.6" cy="2100.1" rx="11.9" ry="4.7" transform="rotate(157 871.6 2100.1)" fill="#33dfe8"/>
<ellipse cx="731.1" cy="2126.5" rx="14.1" ry="6.7" transform="rotate(177.1 731.1 2126.5)" fill="#1abec6"/>
<ellipse cx="857.2" cy="2114.3" rx="12.2" ry="5.6" transform="rotate(177.4 857.2 2114.3)" fill="#26d0d4"/>
<ellipse cx="861.5" cy="2126.6" rx="14.9" ry="4.4" transform="rotate(166 861.5 2126.6)" fill="#15abb3"/>
<ellipse cx="745.5" cy="2104.9" rx="11.5" ry="4.4" transform="rotate(36.3 745.5 2104.9)" fill="#0e90a6"/>
<ellipse cx="821.6" cy="2121.6" rx="14" ry="7.8" transform="rotate(53.5 821.6 2121.6)" fill="#18b4b8"/>
<ellipse cx="862" cy="2108.8" rx="15.9" ry="4.9" transform="rotate(114.1 862 2108.8)" fill="#26d0d4"/>
<ellipse cx="687.6" cy="2120.2" rx="11.4" ry="4.3" transform="rotate(149 687.6 2120.2)" fill="#18b4b8"/>
<ellipse cx="746.1" cy="2097.5" rx="16.4" ry="7.5" transform="rotate(174.8 746.1 2097.5)" fill="#15abb3"/>
<ellipse cx="866.2" cy="2127.7" rx="11.6" ry="5.7" transform="rotate(14.6 866.2 2127.7)" fill="#0e90a6"/>
<ellipse cx="740.4" cy="2100" rx="16" ry="6.7" transform="rotate(36.8 740.4 2100)" fill="#0f8a8e"/>
<ellipse cx="834.3" cy="2146.8" rx="15" ry="4.6" transform="rotate(5.2 834.3 2146.8)" fill="#0e7464"/>
<ellipse cx="868.6" cy="2101.5" rx="10.4" ry="6.4" transform="rotate(163.9 868.6 2101.5)" fill="#1fcfd9"/>
<ellipse cx="812.9" cy="2132.9" rx="16.4" ry="7.9" transform="rotate(123.4 812.9 2132.9)" fill="#128a74"/>
<ellipse cx="842.6" cy="2130.6" rx="14.5" ry="6.8" transform="rotate(1.1 842.6 2130.6)" fill="#0e90a6"/>
<ellipse cx="760.8" cy="2146.5" rx="16.9" ry="5.4" transform="rotate(22 760.8 2146.5)" fill="#0f7e68"/>
<ellipse cx="808.2" cy="2135.1" rx="10.9" ry="7.5" transform="rotate(19.7 808.2 2135.1)" fill="#1bb09a"/>
<ellipse cx="816.4" cy="2107.9" rx="12.2" ry="6.9" transform="rotate(84.2 816.4 2107.9)" fill="#0f8a8e"/>
<ellipse cx="706.4" cy="2126.1" rx="16.9" ry="7.4" transform="rotate(72.2 706.4 2126.1)" fill="#0e90a6"/>
<ellipse cx="689.7" cy="2114.4" rx="14" ry="6.5" transform="rotate(19.2 689.7 2114.4)" fill="#159a84"/>
<ellipse cx="695" cy="2148.8" rx="10.9" ry="6.3" transform="rotate(0.2 695 2148.8)" fill="#128a74"/>
<ellipse cx="867.7" cy="2124.5" rx="15.7" ry="4.6" transform="rotate(132.1 867.7 2124.5)" fill="#1abec6"/>
<ellipse cx="690.4" cy="2124.3" rx="15.1" ry="5.9" transform="rotate(178.9 690.4 2124.3)" fill="#1fc4c8"/>
<ellipse cx="780.4" cy="2145.6" rx="11.5" ry="5.7" transform="rotate(26 780.4 2145.6)" fill="#0e90a6"/>
<ellipse cx="720.2" cy="2144.4" rx="15.9" ry="6.6" transform="rotate(39.8 720.2 2144.4)" fill="#0e7464"/>
<ellipse cx="684.2" cy="2126.8" rx="14.7" ry="5.1" transform="rotate(47.8 684.2 2126.8)" fill="#17a08c"/>
<ellipse cx="872.9" cy="2106.9" rx="12" ry="6.6" transform="rotate(62.6 872.9 2106.9)" fill="#19b9cc"/>
<ellipse cx="744.1" cy="2121.3" rx="10.6" ry="6.8" transform="rotate(114.5 744.1 2121.3)" fill="#0e7464"/>
<ellipse cx="872.4" cy="2129.1" rx="15.8" ry="7.1" transform="rotate(66.4 872.4 2129.1)" fill="#18b4b8"/>
<ellipse cx="734.3" cy="2131.8" rx="14.7" ry="5.2" transform="rotate(124.6 734.3 2131.8)" fill="#0f7e68"/>
<ellipse cx="775.4" cy="2149.9" rx="13.6" ry="5.6" transform="rotate(107.2 775.4 2149.9)" fill="#0e7464"/>
<ellipse cx="859" cy="2133" rx="10.9" ry="6" transform="rotate(144.1 859 2133)" fill="#15abb3"/>
<ellipse cx="755.1" cy="2144" rx="11" ry="7" transform="rotate(125.1 755.1 2144)" fill="#0f7e68"/>
<ellipse cx="797.3" cy="2148.4" rx="15.4" ry="4.2" transform="rotate(24.6 797.3 2148.4)" fill="#159a84"/>
<ellipse cx="807.1" cy="2129.5" rx="16.4" ry="6.4" transform="rotate(142 807.1 2129.5)" fill="#15abb3"/>
<ellipse cx="797.9" cy="2138.6" rx="14" ry="5.1" transform="rotate(149 797.9 2138.6)" fill="#19a890"/>
<ellipse cx="803.9" cy="2134.6" rx="10.2" ry="6.3" transform="rotate(109 803.9 2134.6)" fill="#0f7e68"/>
<ellipse cx="859.1" cy="2135.1" rx="12.5" ry="5.4" transform="rotate(51.9 859.1 2135.1)" fill="#0e90a6"/>
<ellipse cx="684" cy="2112.4" rx="16.9" ry="7.5" transform="rotate(58.6 684 2112.4)" fill="#15abb3"/>
<ellipse cx="717.8" cy="2124" rx="11.5" ry="5.6" transform="rotate(3.5 717.8 2124)" fill="#1abec6"/>
<ellipse cx="690.9" cy="2118.6" rx="15.7" ry="7.3" transform="rotate(65.4 690.9 2118.6)" fill="#1fc4c8"/>
<ellipse cx="799.4" cy="2143.8" rx="15.8" ry="7.8" transform="rotate(29.6 799.4 2143.8)" fill="#1bb09a"/>
<ellipse cx="781.3" cy="2149.9" rx="12.5" ry="4.4" transform="rotate(57.9 781.3 2149.9)" fill="#0e7464"/>
<ellipse cx="836.5" cy="2134.6" rx="12.1" ry="6.9" transform="rotate(166.4 836.5 2134.6)" fill="#159a84"/>
<ellipse cx="827.1" cy="2116" rx="12.5" ry="7.7" transform="rotate(154.5 827.1 2116)" fill="#0e9fb2"/>
<ellipse cx="771" cy="2124.1" rx="12.4" ry="6.1" transform="rotate(179.3 771 2124.1)" fill="#0e90a6"/>
<ellipse cx="730.4" cy="2155.3" rx="10.7" ry="6.8" transform="rotate(5.4 730.4 2155.3)" fill="#17a08c"/>
<ellipse cx="735.6" cy="2155" rx="13.5" ry="7.7" transform="rotate(25.8 735.6 2155)" fill="#17a08c"/>
<ellipse cx="805.3" cy="2157.2" rx="15.1" ry="7" transform="rotate(160.1 805.3 2157.2)" fill="#0e7464"/>
<ellipse cx="749.8" cy="2149" rx="16.4" ry="5.1" transform="rotate(99.7 749.8 2149)" fill="#159a84"/>
<ellipse cx="711.9" cy="2152.8" rx="15.4" ry="5.8" transform="rotate(85.9 711.9 2152.8)" fill="#19a890"/>
<ellipse cx="712.9" cy="2150" rx="13.7" ry="6.5" transform="rotate(20.7 712.9 2150)" fill="#17a08c"/>
<ellipse cx="758.7" cy="2143.7" rx="11.9" ry="7" transform="rotate(37.8 758.7 2143.7)" fill="#19a890"/>
<ellipse cx="768.5" cy="2126.1" rx="12.5" ry="7.7" transform="rotate(118.7 768.5 2126.1)" fill="#0e90a6"/>
<ellipse cx="740" cy="2148" rx="10.5" ry="7.5" transform="rotate(28.5 740 2148)" fill="#1fc4c8"/>
<ellipse cx="848.3" cy="2137.5" rx="10.4" ry="4.6" transform="rotate(81.2 848.3 2137.5)" fill="#18b4b8"/>
<ellipse cx="823.7" cy="2123.1" rx="12.2" ry="6.4" transform="rotate(70 823.7 2123.1)" fill="#1abec6"/>
<ellipse cx="785.7" cy="2132.5" rx="14.7" ry="7.4" transform="rotate(37.1 785.7 2132.5)" fill="#1099a6"/>
<ellipse cx="818.5" cy="2143.1" rx="13.1" ry="7.1" transform="rotate(30.5 818.5 2143.1)" fill="#0f8a8e"/>
<ellipse cx="829.7" cy="2155.2" rx="12.2" ry="6.8" transform="rotate(155.8 829.7 2155.2)" fill="#159a84"/>
<ellipse cx="775.4" cy="2173.9" rx="16.8" ry="6.9" transform="rotate(45.7 775.4 2173.9)" fill="#0e7464"/>
<ellipse cx="836.9" cy="2160.1" rx="10.8" ry="7.4" transform="rotate(119.6 836.9 2160.1)" fill="#19a890"/>
<ellipse cx="700.7" cy="2146.6" rx="16.3" ry="7.5" transform="rotate(118 700.7 2146.6)" fill="#128a74"/>
<ellipse cx="859.8" cy="2150.4" rx="12" ry="6.6" transform="rotate(76.6 859.8 2150.4)" fill="#0e90a6"/>
<ellipse cx="763.1" cy="2170.1" rx="16.2" ry="7.4" transform="rotate(139.5 763.1 2170.1)" fill="#159a84"/>
<ellipse cx="814.3" cy="2135.7" rx="11.9" ry="7" transform="rotate(91.4 814.3 2135.7)" fill="#26d0d4"/>
<ellipse cx="794.3" cy="2139.5" rx="15.1" ry="5.8" transform="rotate(8.9 794.3 2139.5)" fill="#19a890"/>
<ellipse cx="788.4" cy="2134.5" rx="11.8" ry="6.1" transform="rotate(161.3 788.4 2134.5)" fill="#19a890"/>
<ellipse cx="731.8" cy="2142.5" rx="11.7" ry="7.4" transform="rotate(1 731.8 2142.5)" fill="#0e7464"/>
<ellipse cx="711.2" cy="2149.6" rx="13.6" ry="4.4" transform="rotate(169.3 711.2 2149.6)" fill="#0e7464"/>
<ellipse cx="793.6" cy="2166.9" rx="12.2" ry="4.9" transform="rotate(174.7 793.6 2166.9)" fill="#0e7464"/>
<ellipse cx="874.8" cy="2145.3" rx="12" ry="4.2" transform="rotate(153.8 874.8 2145.3)" fill="#128a74"/>
<ellipse cx="719" cy="2135.1" rx="15.2" ry="5.8" transform="rotate(95.5 719 2135.1)" fill="#19a890"/>
<ellipse cx="813.1" cy="2178.3" rx="13.2" ry="4.2" transform="rotate(67.8 813.1 2178.3)" fill="#128a74"/>
<ellipse cx="881.5" cy="2131.4" rx="13.1" ry="4.6" transform="rotate(70.8 881.5 2131.4)" fill="#128a74"/>
<ellipse cx="796.6" cy="2158.2" rx="15.3" ry="7.9" transform="rotate(21.5 796.6 2158.2)" fill="#128a74"/>
<ellipse cx="816.9" cy="2151.2" rx="12.2" ry="5.2" transform="rotate(59.6 816.9 2151.2)" fill="#1bb09a"/>
<ellipse cx="733.1" cy="2168.9" rx="12.7" ry="7.5" transform="rotate(90.2 733.1 2168.9)" fill="#17a08c"/>
<ellipse cx="746.1" cy="2159.5" rx="16.7" ry="4.8" transform="rotate(150.9 746.1 2159.5)" fill="#159a84"/>
<ellipse cx="715.9" cy="2152.9" rx="15.8" ry="7.1" transform="rotate(132.9 715.9 2152.9)" fill="#19a890"/>
<ellipse cx="755.5" cy="2178.7" rx="16.3" ry="6.7" transform="rotate(94.6 755.5 2178.7)" fill="#19a890"/>
<ellipse cx="815.8" cy="2149.2" rx="15.5" ry="4.9" transform="rotate(84.5 815.8 2149.2)" fill="#0f7e68"/>
<ellipse cx="780.7" cy="2170.6" rx="11.2" ry="5.7" transform="rotate(99 780.7 2170.6)" fill="#0e7464"/>
<ellipse cx="686.1" cy="2136.7" rx="11.8" ry="6.2" transform="rotate(145 686.1 2136.7)" fill="#17a08c"/>
<ellipse cx="755.2" cy="2152.4" rx="16.3" ry="4.1" transform="rotate(124.4 755.2 2152.4)" fill="#1bb09a"/>
<ellipse cx="767.2" cy="2170.8" rx="12.7" ry="5.9" transform="rotate(99.7 767.2 2170.8)" fill="#19a890"/>
<ellipse cx="817.5" cy="2138.9" rx="12.7" ry="5.3" transform="rotate(158.2 817.5 2138.9)" fill="#26d0d4"/>
<ellipse cx="736.9" cy="2166.3" rx="10.1" ry="7.4" transform="rotate(83.5 736.9 2166.3)" fill="#0e7464"/>
<ellipse cx="781.7" cy="2183.5" rx="10.7" ry="5.3" transform="rotate(101 781.7 2183.5)" fill="#0e7464"/>
<ellipse cx="712.1" cy="2150.6" rx="10.5" ry="5.4" transform="rotate(167.5 712.1 2150.6)" fill="#17a08c"/>
<ellipse cx="714.7" cy="2160.8" rx="14.6" ry="4.4" transform="rotate(57.8 714.7 2160.8)" fill="#17a08c"/>
<ellipse cx="828.3" cy="2154.4" rx="11.4" ry="4.3" transform="rotate(104.9 828.3 2154.4)" fill="#0e7464"/>
<ellipse cx="731.8" cy="2144" rx="12.4" ry="5.1" transform="rotate(161.7 731.8 2144)" fill="#19a890"/>
<ellipse cx="759" cy="2182.3" rx="15.1" ry="5.7" transform="rotate(143.1 759 2182.3)" fill="#159a84"/>
<ellipse cx="726.3" cy="2168.3" rx="10.2" ry="4" transform="rotate(87.5 726.3 2168.3)" fill="#19a890"/>
<ellipse cx="763.7" cy="2165.9" rx="11.1" ry="4.1" transform="rotate(83 763.7 2165.9)" fill="#0f7e68"/>
<ellipse cx="778.5" cy="2177.9" rx="12.7" ry="5" transform="rotate(171.7 778.5 2177.9)" fill="#0f7e68"/>
<ellipse cx="762.5" cy="2169.7" rx="12" ry="5.1" transform="rotate(17.6 762.5 2169.7)" fill="#0e7464"/>
<ellipse cx="766.5" cy="2156.9" rx="13.9" ry="5.9" transform="rotate(85.2 766.5 2156.9)" fill="#128a74"/>
<ellipse cx="810.9" cy="2178.5" rx="13.2" ry="6.7" transform="rotate(92.7 810.9 2178.5)" fill="#128a74"/>
<ellipse cx="823.3" cy="2170.9" rx="10.6" ry="6.2" transform="rotate(62.4 823.3 2170.9)" fill="#1bb09a"/>
<ellipse cx="744.9" cy="2169.2" rx="16.9" ry="4.2" transform="rotate(20.6 744.9 2169.2)" fill="#128a74"/>
<ellipse cx="761" cy="2168.4" rx="15.1" ry="8" transform="rotate(159 761 2168.4)" fill="#128a74"/>
<ellipse cx="738.7" cy="2168.1" rx="15.1" ry="5.2" transform="rotate(10.3 738.7 2168.1)" fill="#1bb09a"/>
<ellipse cx="829.4" cy="2169" rx="12.6" ry="5.6" transform="rotate(52.2 829.4 2169)" fill="#19a890"/>
<ellipse cx="783.3" cy="2178.9" rx="12.9" ry="7.1" transform="rotate(103 783.3 2178.9)" fill="#0f7e68"/>
<ellipse cx="827" cy="2177.7" rx="10.8" ry="4.5" transform="rotate(82.7 827 2177.7)" fill="#1bb09a"/>
<ellipse cx="744.5" cy="2176.6" rx="13.3" ry="4.7" transform="rotate(131 744.5 2176.6)" fill="#0e7464"/>
<ellipse cx="687.7" cy="2077.5" rx="4.5" ry="1.5" transform="rotate(144.5 687.7 2077.5)" fill="#0c78c0" opacity="0.8"/>
<ellipse cx="885.9" cy="2092.7" rx="4.8" ry="1.5" transform="rotate(45.8 885.9 2092.7)" fill="#0c78c0" opacity="0.8"/>
<ellipse cx="771" cy="2112.1" rx="4.5" ry="1.5" transform="rotate(104.6 771 2112.1)" fill="#0c78c0" opacity="0.8"/>
<ellipse cx="796.8" cy="2046.6" rx="5.5" ry="1.5" transform="rotate(123.7 796.8 2046.6)" fill="#0c78c0" opacity="0.8"/>
<ellipse cx="698.4" cy="2116.6" rx="6.8" ry="1.5" transform="rotate(96.9 698.4 2116.6)" fill="#0c78c0" opacity="0.8"/>
<ellipse cx="857.8" cy="2125.4" rx="5.4" ry="1.5" transform="rotate(2.5 857.8 2125.4)" fill="#0c78c0" opacity="0.8"/>
<ellipse cx="700" cy="2071.9" rx="7.2" ry="1.5" transform="rotate(157.2 700 2071.9)" fill="#0c78c0" opacity="0.8"/>
<ellipse cx="860.2" cy="2093.2" rx="5.9" ry="1.5" transform="rotate(70.7 860.2 2093.2)" fill="#0c78c0" opacity="0.8"/>
<ellipse cx="701.8" cy="2113" rx="7.5" ry="1.5" transform="rotate(70.8 701.8 2113)" fill="#0c78c0" opacity="0.8"/>
<ellipse cx="742.8" cy="2037.8" rx="6.4" ry="1.5" transform="rotate(160.9 742.8 2037.8)" fill="#0c78c0" opacity="0.8"/>
<ellipse cx="750.4" cy="2067.8" rx="5.6" ry="1.5" transform="rotate(103.9 750.4 2067.8)" fill="#0c78c0" opacity="0.8"/>
<ellipse cx="802.8" cy="2051.8" rx="5.8" ry="1.5" transform="rotate(3.7 802.8 2051.8)" fill="#0c78c0" opacity="0.8"/>
<ellipse cx="698.8" cy="2092.1" rx="5.1" ry="1.5" transform="rotate(49.1 698.8 2092.1)" fill="#0c78c0" opacity="0.8"/>
<ellipse cx="783.8" cy="2043.2" rx="6.1" ry="1.5" transform="rotate(102.4 783.8 2043.2)" fill="#0c78c0" opacity="0.8"/>
<ellipse cx="848.8" cy="2116.2" rx="6.5" ry="1.5" transform="rotate(139.4 848.8 2116.2)" fill="#0c78c0" opacity="0.8"/>
<ellipse cx="816.1" cy="2055.3" rx="7.2" ry="1.5" transform="rotate(50.7 816.1 2055.3)" fill="#0c78c0" opacity="0.8"/>
<ellipse cx="873.3" cy="2124.2" rx="5.2" ry="1.5" transform="rotate(122.6 873.3 2124.2)" fill="#0c78c0" opacity="0.8"/>
<ellipse cx="847" cy="2100.3" rx="6.5" ry="1.5" transform="rotate(91.6 847 2100.3)" fill="#0c78c0" opacity="0.8"/>
<ellipse cx="747.9" cy="2077.8" rx="4.2" ry="1.5" transform="rotate(73.1 747.9 2077.8)" fill="#0c78c0" opacity="0.8"/>
<ellipse cx="744.7" cy="2050.6" rx="5.9" ry="1.5" transform="rotate(177.9 744.7 2050.6)" fill="#0c78c0" opacity="0.8"/>
<ellipse cx="751.9" cy="2041" rx="5.4" ry="1.5" transform="rotate(42.3 751.9 2041)" fill="#0c78c0" opacity="0.8"/>
<ellipse cx="872.8" cy="2066.1" rx="6.3" ry="1.5" transform="rotate(80.2 872.8 2066.1)" fill="#0c78c0" opacity="0.8"/>
<ellipse cx="737.8" cy="2098.8" rx="7.7" ry="1.5" transform="rotate(99.2 737.8 2098.8)" fill="#0c78c0" opacity="0.8"/>
<ellipse cx="745.5" cy="2122.1" rx="4.3" ry="1.5" transform="rotate(105 745.5 2122.1)" fill="#0c78c0" opacity="0.8"/>
<ellipse cx="706.7" cy="2081.3" rx="5.4" ry="1.5" transform="rotate(177.7 706.7 2081.3)" fill="#0c78c0" opacity="0.8"/>
<ellipse cx="849.7" cy="2063.1" rx="4.3" ry="1.5" transform="rotate(156.3 849.7 2063.1)" fill="#0c78c0" opacity="0.8"/>
<ellipse cx="780.1" cy="2119.4" rx="5" ry="1.5" transform="rotate(49.7 780.1 2119.4)" fill="#0c78c0" opacity="0.8"/>
<ellipse cx="728.1" cy="2096.1" rx="5.6" ry="1.5" transform="rotate(39.3 728.1 2096.1)" fill="#0c78c0" opacity="0.8"/>
<ellipse cx="711.9" cy="2084" rx="6.6" ry="1.5" transform="rotate(155.5 711.9 2084)" fill="#0c78c0" opacity="0.8"/>
<ellipse cx="711" cy="2099.7" rx="6.4" ry="1.5" transform="rotate(173.4 711 2099.7)" fill="#0c78c0" opacity="0.8"/>
<ellipse cx="682.8" cy="2108.7" rx="5.4" ry="1.5" transform="rotate(157.6 682.8 2108.7)" fill="#0c78c0" opacity="0.8"/>
<ellipse cx="792.7" cy="2116.6" rx="7.7" ry="1.5" transform="rotate(115.2 792.7 2116.6)" fill="#0c78c0" opacity="0.8"/>
<ellipse cx="714.7" cy="2051" rx="6.6" ry="1.5" transform="rotate(134.9 714.7 2051)" fill="#0c78c0" opacity="0.8"/>
<ellipse cx="761.1" cy="2093.1" rx="4.2" ry="1.5" transform="rotate(60.8 761.1 2093.1)" fill="#0c78c0" opacity="0.8"/>
<ellipse cx="814.1" cy="2051.9" rx="6.4" ry="1.5" transform="rotate(89 814.1 2051.9)" fill="#0c78c0" opacity="0.8"/>
<ellipse cx="725.5" cy="2067.3" rx="7.7" ry="1.5" transform="rotate(2.4 725.5 2067.3)" fill="#0c78c0" opacity="0.8"/>
<ellipse cx="799.2" cy="2130" rx="6.5" ry="1.5" transform="rotate(10.1 799.2 2130)" fill="#0c78c0" opacity="0.8"/>
<ellipse cx="837.6" cy="2051.3" rx="4.6" ry="1.5" transform="rotate(16.8 837.6 2051.3)" fill="#0c78c0" opacity="0.8"/>
<ellipse cx="698" cy="2103.7" rx="7.3" ry="1.5" transform="rotate(16.2 698 2103.7)" fill="#0c78c0" opacity="0.8"/>
<ellipse cx="765.4" cy="2076.3" rx="6.2" ry="1.5" transform="rotate(105.9 765.4 2076.3)" fill="#0c78c0" opacity="0.8"/>
<ellipse cx="821.6" cy="2092.1" rx="7.7" ry="1.7" transform="rotate(59.6 821.6 2092.1)" fill="#86f4f6" opacity="0.85"/>
<ellipse cx="725.7" cy="2106.8" rx="7.9" ry="1.7" transform="rotate(137.4 725.7 2106.8)" fill="#86f4f6" opacity="0.85"/>
<ellipse cx="738" cy="2115" rx="6.3" ry="1.7" transform="rotate(175.9 738 2115)" fill="#86f4f6" opacity="0.85"/>
<ellipse cx="730.6" cy="2081.7" rx="4.7" ry="1.7" transform="rotate(169.4 730.6 2081.7)" fill="#86f4f6" opacity="0.85"/>
<ellipse cx="821.1" cy="2115.2" rx="8.9" ry="1.7" transform="rotate(65.2 821.1 2115.2)" fill="#86f4f6" opacity="0.85"/>
<ellipse cx="718.6" cy="2112.8" rx="4.1" ry="1.7" transform="rotate(16.2 718.6 2112.8)" fill="#86f4f6" opacity="0.85"/>
<ellipse cx="784.2" cy="2086" rx="8.7" ry="1.7" transform="rotate(32.7 784.2 2086)" fill="#86f4f6" opacity="0.85"/>
<ellipse cx="751.5" cy="2031.8" rx="7.7" ry="1.7" transform="rotate(31.9 751.5 2031.8)" fill="#86f4f6" opacity="0.85"/>
<ellipse cx="722" cy="2142.9" rx="7.2" ry="1.7" transform="rotate(89.8 722 2142.9)" fill="#86f4f6" opacity="0.85"/>
<ellipse cx="746.4" cy="2118.7" rx="5.6" ry="1.7" transform="rotate(82.8 746.4 2118.7)" fill="#86f4f6" opacity="0.85"/>
<ellipse cx="818.7" cy="2065.5" rx="4.3" ry="1.7" transform="rotate(155.5 818.7 2065.5)" fill="#86f4f6" opacity="0.85"/>
<ellipse cx="799.2" cy="2066.6" rx="8.7" ry="1.7" transform="rotate(165.4 799.2 2066.6)" fill="#86f4f6" opacity="0.85"/>
<ellipse cx="814.3" cy="2041.8" rx="5.3" ry="1.7" transform="rotate(45.3 814.3 2041.8)" fill="#86f4f6" opacity="0.85"/>
<ellipse cx="767.9" cy="2042.8" rx="7.8" ry="1.7" transform="rotate(36.6 767.9 2042.8)" fill="#86f4f6" opacity="0.85"/>
<ellipse cx="818.1" cy="2051.7" rx="5.1" ry="1.7" transform="rotate(179 818.1 2051.7)" fill="#86f4f6" opacity="0.85"/>
<ellipse cx="800.5" cy="2032.8" rx="8.3" ry="1.7" transform="rotate(155.4 800.5 2032.8)" fill="#86f4f6" opacity="0.85"/>
<ellipse cx="727.9" cy="2112.2" rx="5.4" ry="1.7" transform="rotate(148.1 727.9 2112.2)" fill="#86f4f6" opacity="0.85"/>
<ellipse cx="743.4" cy="2076.7" rx="4.8" ry="1.7" transform="rotate(160.4 743.4 2076.7)" fill="#86f4f6" opacity="0.85"/>
<ellipse cx="827.7" cy="2091.6" rx="6.9" ry="1.7" transform="rotate(81.5 827.7 2091.6)" fill="#86f4f6" opacity="0.85"/>
<ellipse cx="851" cy="2127.1" rx="8.3" ry="1.7" transform="rotate(32.8 851 2127.1)" fill="#86f4f6" opacity="0.85"/>
<ellipse cx="704.3" cy="2103" rx="5.7" ry="1.7" transform="rotate(16.2 704.3 2103)" fill="#86f4f6" opacity="0.85"/>
<ellipse cx="884.2" cy="2107.5" rx="8.9" ry="1.7" transform="rotate(158.8 884.2 2107.5)" fill="#86f4f6" opacity="0.85"/>
<ellipse cx="853.9" cy="2103.9" rx="6.5" ry="1.7" transform="rotate(6.8 853.9 2103.9)" fill="#86f4f6" opacity="0.85"/>
<ellipse cx="719.4" cy="2069.3" rx="4.1" ry="1.7" transform="rotate(18.9 719.4 2069.3)" fill="#86f4f6" opacity="0.85"/>
<ellipse cx="780.8" cy="2030" rx="4.9" ry="1.7" transform="rotate(77.1 780.8 2030)" fill="#86f4f6" opacity="0.85"/>
<ellipse cx="828.3" cy="2031.6" rx="6.5" ry="1.7" transform="rotate(132.9 828.3 2031.6)" fill="#86f4f6" opacity="0.85"/>
<ellipse cx="782.9" cy="2134.5" rx="5.1" ry="1.7" transform="rotate(62.9 782.9 2134.5)" fill="#86f4f6" opacity="0.85"/>
<ellipse cx="839.3" cy="2048.3" rx="5.3" ry="1.7" transform="rotate(31.9 839.3 2048.3)" fill="#86f4f6" opacity="0.85"/>
<ellipse cx="785.9" cy="2066.3" rx="5.8" ry="1.7" transform="rotate(100.2 785.9 2066.3)" fill="#86f4f6" opacity="0.85"/>
<ellipse cx="820.5" cy="2084.5" rx="7.5" ry="1.7" transform="rotate(98.8 820.5 2084.5)" fill="#86f4f6" opacity="0.85"/>
<ellipse cx="836.1" cy="2065.2" rx="6.1" ry="1.7" transform="rotate(57.3 836.1 2065.2)" fill="#86f4f6" opacity="0.85"/>
<ellipse cx="756.3" cy="2066.6" rx="9" ry="1.7" transform="rotate(25.7 756.3 2066.6)" fill="#86f4f6" opacity="0.85"/>
<ellipse cx="810.4" cy="2062.2" rx="5" ry="1.7" transform="rotate(43.3 810.4 2062.2)" fill="#86f4f6" opacity="0.85"/>
<ellipse cx="691.7" cy="2124.4" rx="8.5" ry="1.7" transform="rotate(141.1 691.7 2124.4)" fill="#86f4f6" opacity="0.85"/>
<ellipse cx="741.6" cy="2098.1" rx="5.6" ry="1.7" transform="rotate(98.8 741.6 2098.1)" fill="#86f4f6" opacity="0.85"/>
<ellipse cx="842.9" cy="2125.8" rx="7" ry="1.7" transform="rotate(91.8 842.9 2125.8)" fill="#86f4f6" opacity="0.85"/>
<ellipse cx="814.9" cy="2111.1" rx="7.6" ry="1.7" transform="rotate(68.2 814.9 2111.1)" fill="#86f4f6" opacity="0.85"/>
<ellipse cx="758.2" cy="2082.1" rx="7.4" ry="1.7" transform="rotate(110.3 758.2 2082.1)" fill="#86f4f6" opacity="0.85"/>
<ellipse cx="741.1" cy="2095.8" rx="5.1" ry="1.7" transform="rotate(97.8 741.1 2095.8)" fill="#86f4f6" opacity="0.85"/>
<ellipse cx="810.8" cy="2047.2" rx="6.4" ry="1.7" transform="rotate(163.6 810.8 2047.2)" fill="#86f4f6" opacity="0.85"/>
<ellipse cx="837" cy="2081.5" rx="5.1" ry="1.7" transform="rotate(85.8 837 2081.5)" fill="#86f4f6" opacity="0.85"/>
<ellipse cx="697.9" cy="2135.6" rx="6.6" ry="1.7" transform="rotate(95.2 697.9 2135.6)" fill="#86f4f6" opacity="0.85"/>
<ellipse cx="790.4" cy="2120.4" rx="4.9" ry="1.7" transform="rotate(43 790.4 2120.4)" fill="#86f4f6" opacity="0.85"/>
<ellipse cx="861.1" cy="2073.3" rx="8.1" ry="1.7" transform="rotate(115.3 861.1 2073.3)" fill="#86f4f6" opacity="0.85"/>
<ellipse cx="878.4" cy="2127.7" rx="5.9" ry="1.7" transform="rotate(7.8 878.4 2127.7)" fill="#86f4f6" opacity="0.85"/>
<ellipse cx="863.5" cy="2121" rx="4.8" ry="1.7" transform="rotate(22.1 863.5 2121)" fill="#86f4f6" opacity="0.85"/>
<ellipse cx="779.8" cy="2020.5" rx="6.6" ry="5.2" fill="#e4742a" stroke="#c45e1e" stroke-width="1"/>
<ellipse cx="756.6" cy="2042" rx="6.6" ry="5.2" fill="#e4742a" stroke="#c45e1e" stroke-width="1"/>
<ellipse cx="783.9" cy="2045.4" rx="6.6" ry="5.2" fill="#e4742a" stroke="#c45e1e" stroke-width="1"/>
<ellipse cx="819" cy="2040.6" rx="6.6" ry="5.2" fill="#e4742a" stroke="#c45e1e" stroke-width="1"/>
<ellipse cx="832.3" cy="2048.8" rx="6.6" ry="5.2" fill="#e4742a" stroke="#c45e1e" stroke-width="1"/>
<ellipse cx="861.2" cy="2051.5" rx="6.6" ry="5.2" fill="#e4742a" stroke="#c45e1e" stroke-width="1"/>
<ellipse cx="722.6" cy="2058.3" rx="6.6" ry="5.2" fill="#e4742a" stroke="#c45e1e" stroke-width="1"/>
<ellipse cx="768.6" cy="2066.5" rx="6.6" ry="5.2" fill="#e4742a" stroke="#c45e1e" stroke-width="1"/>
<ellipse cx="807.1" cy="2058.3" rx="6.6" ry="5.2" fill="#e4742a" stroke="#c45e1e" stroke-width="1"/>
<ellipse cx="869.1" cy="2064.5" rx="6.6" ry="5.2" fill="#e4742a" stroke="#c45e1e" stroke-width="1"/>
<ellipse cx="733.8" cy="2075.4" rx="6.6" ry="5.2" fill="#e4742a" stroke="#c45e1e" stroke-width="1"/>
<ellipse cx="795.8" cy="2079.5" rx="6.6" ry="5.2" fill="#e4742a" stroke="#c45e1e" stroke-width="1"/>
<ellipse cx="832.3" cy="2076.1" rx="6.6" ry="5.2" fill="#e4742a" stroke="#c45e1e" stroke-width="1"/>
<ellipse cx="880" cy="2090.4" rx="6.6" ry="5.2" fill="#e4742a" stroke="#c45e1e" stroke-width="1"/>
<ellipse cx="710.6" cy="2093.1" rx="6.6" ry="5.2" fill="#e4742a" stroke="#c45e1e" stroke-width="1"/>
<ellipse cx="745.7" cy="2102.6" rx="6.6" ry="5.2" fill="#e4742a" stroke="#c45e1e" stroke-width="1"/>
<ellipse cx="783.9" cy="2101.6" rx="6.6" ry="5.2" fill="#e4742a" stroke="#c45e1e" stroke-width="1"/>
<ellipse cx="832.3" cy="2102.6" rx="6.6" ry="5.2" fill="#e4742a" stroke="#c45e1e" stroke-width="1"/>
<ellipse cx="698.7" cy="2115.2" rx="6.6" ry="5.2" fill="#e4742a" stroke="#c45e1e" stroke-width="1"/>
<ellipse cx="807.1" cy="2124.4" rx="6.6" ry="5.2" fill="#e4742a" stroke="#c45e1e" stroke-width="1"/>
<ellipse cx="861.2" cy="2129.9" rx="6.6" ry="5.2" fill="#e4742a" stroke="#c45e1e" stroke-width="1"/>
<ellipse cx="756.6" cy="2138.1" rx="6.6" ry="5.2" fill="#e4742a" stroke="#c45e1e" stroke-width="1"/>
<ellipse cx="794.8" cy="2137.4" rx="6.6" ry="5.2" fill="#e4742a" stroke="#c45e1e" stroke-width="1"/>
<ellipse cx="850.3" cy="2151" rx="6.6" ry="5.2" fill="#e4742a" stroke="#c45e1e" stroke-width="1"/>
<ellipse cx="721.6" cy="2165.3" rx="6.6" ry="5.2" fill="#e4742a" stroke="#c45e1e" stroke-width="1"/>
<ellipse cx="768.6" cy="2161.9" rx="6.6" ry="5.2" fill="#e4742a" stroke="#c45e1e" stroke-width="1"/>
<ellipse cx="842.8" cy="2164" rx="6.6" ry="5.2" fill="#e4742a" stroke="#c45e1e" stroke-width="1"/></g>
<g transform="translate(230 2400) scale(0.3846)" fill="none" stroke="#22c01e" stroke-width="8" stroke-linecap="round" stroke-linejoin="round">
<path d="M700 95C655 95.8 513.3 90.8 430 100C346.7 109.2 256.7 125 200 150C143.3 175 111.3 208.3 90 250C68.7 291.7 62 346.7 72 400C82 453.3 112 517.5 150 570C188 622.5 241.7 682.5 300 715C358.3 747.5 416.7 760.5 500 765C583.3 769.5 700 754.5 800 742C900 729.5 1000 713.7 1100 690C1200 666.3 1316.7 635 1400 600C1483.3 565 1552 521.7 1600 480C1648 438.3 1674.7 388.3 1688 350C1701.3 311.7 1694.7 277.5 1680 250C1665.3 222.5 1646.7 204.2 1600 185C1553.3 165.8 1483.3 148.8 1400 135C1316.7 121.2 1200 109.5 1100 102C1000 94.5 900 91.7 800 90C700 88.3 550 91.7 500 92"/>
<path d="M272 292C276.7 288 278.7 273.7 300 268C321.3 262.3 333.3 261 400 258C466.7 255 583.3 249.7 700 250C816.7 250.3 983.3 256.7 1100 260C1216.7 263.3 1308.3 267 1400 270C1491.7 273 1608.3 276.7 1650 278"/>
<path d="M272 292C280 296.7 290.3 308.7 320 320C349.7 331.3 386.7 343.3 450 360C513.3 376.7 608.3 406.7 700 420C791.7 433.3 908.3 441.7 1000 440C1091.7 438.3 1198.3 418.3 1250 410C1301.7 401.7 1305 398.3 1310 390C1315 381.7 1315 375 1280 360C1245 345 1130 310 1100 300"/>
<path d="M205 232C225.8 226.7 289.2 212 330 200C370.8 188 405 172.5 450 160C495 147.5 558.3 135.8 600 125C641.7 114.2 683.3 100 700 95"/>
<path d="M130 360C151.7 370 215 402 260 420C305 438 343.3 458.3 400 468C456.7 477.7 543.3 479 600 478C656.7 477 706.7 470 740 462C773.3 454 784.2 452 800 430C815.8 408 826.7 376.7 835 330C843.3 283.3 847.5 180 850 150"/>
<path d="M435 90C429.2 108.3 414.2 165 400 200C385.8 235 368.3 263.3 350 300C331.7 336.7 305.3 383.3 290 420C274.7 456.7 259.7 490 258 520C256.3 550 266.3 580 280 600C293.7 620 286.7 632.5 340 640C393.3 647.5 506.7 653.3 600 645C693.3 636.7 800 613.3 900 590C1000 566.7 1100 536.7 1200 505C1300 473.3 1425 434.2 1500 400C1575 365.8 1625 316.7 1650 300"/>
<path d="M120 480C133.3 470 170 441.7 200 420C230 398.3 258.3 371.7 300 350C341.7 328.3 400 307.5 450 290C500 272.5 553.3 263.3 600 245C646.7 226.7 693.3 200 730 180C766.7 160 805 134.2 820 125"/>
<path d="M750 115C741.7 127.5 718.3 165.8 700 190C681.7 214.2 663.3 235 640 260C616.7 285 586.7 311.7 560 340C533.3 368.3 501.7 400 480 430C458.3 460 435 495 430 520C425 545 435 561.7 450 580C465 598.3 491.7 613.3 520 630C548.3 646.7 586.7 668.3 620 680C653.3 691.7 690 698.3 720 700C750 701.7 778.3 700 800 690C821.7 680 836.7 671.7 850 640C863.3 608.3 871.7 543.3 880 500C888.3 456.7 893.3 421.7 900 380C906.7 338.3 911.7 283.3 920 250C928.3 216.7 936.7 196.7 950 180C963.3 163.3 981.7 155 1000 150C1018.3 145 1041.7 144.2 1060 150C1078.3 155.8 1095 165 1110 185C1125 205 1138.3 240.8 1150 270C1161.7 299.2 1170 326.7 1180 360C1190 393.3 1200 433.3 1210 470C1220 506.7 1230.8 548.3 1240 580C1249.2 611.7 1255.8 639.2 1265 660C1274.2 680.8 1283.3 700 1295 705C1306.7 710 1321.7 705.8 1335 690C1348.3 674.2 1360.8 641.7 1375 610C1389.2 578.3 1404.2 536.7 1420 500C1435.8 463.3 1455 423.3 1470 390C1485 356.7 1498.3 327.5 1510 300C1521.7 272.5 1535 237.5 1540 225"/>
<path d="M500 90C525 100 600 131.7 650 150C700 168.3 741.7 180.8 800 200C858.3 219.2 950 248.3 1000 265C1050 281.7 1050 277.5 1100 300C1150 322.5 1250 373.3 1300 400C1350 426.7 1368.3 439.2 1400 460C1431.7 480.8 1475 514.2 1490 525"/>
<path d="M1070 130C1078.3 129.2 1098.3 123.3 1120 125C1141.7 126.7 1153.3 127.5 1200 140C1246.7 152.5 1336.7 173.3 1400 200C1463.3 226.7 1534.2 268.3 1580 300C1625.8 331.7 1663.3 366.7 1675 390C1686.7 413.3 1662.5 425 1650 440C1637.5 455 1641.7 460 1600 480C1558.3 500 1466.7 541.7 1400 560C1333.3 578.3 1266.7 583.3 1200 590C1133.3 596.7 1058.3 601.7 1000 600C941.7 598.3 886.7 588.3 850 580C813.3 571.7 785 557.5 780 550C775 542.5 800 538.3 820 535C840 531.7 836.7 527.5 900 530C963.3 532.5 1106.7 542.5 1200 550C1293.3 557.5 1416.7 570.8 1460 575"/>
<path d="M280 465C316.7 469.2 430 480.8 500 490C570 499.2 633.3 508.3 700 520C766.7 531.7 833.3 546.7 900 560C966.7 573.3 1025 585.8 1100 600C1175 614.2 1275 632.5 1350 645C1425 657.5 1516.7 670 1550 675"/>
<path d="M1465 680C1472.5 666.7 1494.2 630 1510 600C1525.8 570 1543.3 530 1560 500C1576.7 470 1595 445 1610 420C1625 395 1643.3 361.7 1650 350"/>
<path d="M120 500C141.7 499.7 203.3 501.3 250 498C296.7 494.7 341.7 488.8 400 480C458.3 471.2 533.3 458.3 600 445C666.7 431.7 733.3 415 800 400C866.7 385 933.3 368.3 1000 355C1066.7 341.7 1133.3 329.2 1200 320C1266.7 310.8 1336.7 303.3 1400 300C1463.3 296.7 1550 300 1580 300"/>
<path d="M350 300C348.3 313.3 335 355 340 380C345 405 361.7 430 380 450C398.3 470 413.3 481.7 450 500C486.7 518.3 541.7 540 600 560C658.3 580 733.3 605 800 620C866.7 635 933.3 646.7 1000 650C1066.7 653.3 1133.3 651.7 1200 640C1266.7 628.3 1341.7 606.7 1400 580C1458.3 553.3 1518.3 513.3 1550 480C1581.7 446.7 1588.3 410 1590 380C1591.7 350 1565 313.3 1560 300"/>
<path d="M1490 160C1471.7 166.7 1415 185 1380 200C1345 215 1310 235 1280 250C1250 265 1213.3 283.3 1200 290"/>
<path d="M990 600C981.7 613.3 961.7 662.5 940 680C918.3 697.5 890 703.3 860 705C830 706.7 776.7 692.5 760 690"/>
</g>
<use href="#sb" x="408.1" y="2472.3"/>
<use href="#sb" x="510" y="2491.5"/>
<use href="#sb" x="571.5" y="2542.3"/>
<use href="#sb" x="410" y="2569.2"/>
<use href="#sb" x="713.8" y="2516.5"/>
<use href="#sb" x="805.8" y="2505.8"/>
<use href="#sb" x="710.8" y="2583.8"/>
<text x="510" y="2703.8" font-size="28" font-weight="bold" textLength="266" lengthAdjust="spacingAndGlyphs" >Cu<tspan font-size="18" dy="6">2</tspan><tspan dy="-6" font-size="1">&#8203;</tspan>O-ZnO/cellulose</text>
<ellipse cx="1758.9" cy="2052" rx="113.6" ry="179" fill="#ffc000" stroke="#000" stroke-width="2.2"/>
<ellipse cx="1593.5" cy="2252.9" rx="111" ry="177.9" fill="#bdd7ee" stroke="#000" stroke-width="2.2"/>
<path d="M1665 1950H1852M1687 2154H1851M1499 2151.2H1686M1499 2357H1686" stroke="#000" stroke-width="3" fill="none"/>
<path d="M1584.6 2357V2156M1572.5 2170L1584.6 2154L1596.7 2170" stroke="#000" stroke-width="4.6" fill="none" stroke-linecap="butt" stroke-linejoin="miter"/>
<path d="M1751 2154V1955M1739 1969L1751 1953L1763 1969" stroke="#000" stroke-width="4.6" fill="none" stroke-linecap="butt" stroke-linejoin="miter"/>
<path d="M1687.2 1952.4L1620.5 2071.5" stroke="#000" stroke-width="4.6" fill="none" stroke-linecap="butt" stroke-linejoin="miter"/>
<path d="M1617 2049L1619 2074L1640 2061" stroke="#000" stroke-width="4.6" fill="none" stroke-linecap="butt" stroke-linejoin="miter"/>
<path d="M1635.7 2343.1L1734.3 2216.5" stroke="#000" stroke-width="4.6" fill="none" stroke-linecap="butt" stroke-linejoin="miter"/>
<path d="M1713 2224L1736 2214.5L1733.5 2239" stroke="#000" stroke-width="4.6" fill="none" stroke-linecap="butt" stroke-linejoin="miter"/>
<text x="1540.4" y="2128.8" font-size="28.5" font-weight="bold">e<tspan font-size="20" dy="-11" dx="3">−</tspan></text><text x="1581" y="2128.8" font-size="28.5" font-weight="bold">e<tspan font-size="20" dy="-11" dx="3">−</tspan></text><text x="1617" y="2128.8" font-size="28.5" font-weight="bold">e<tspan font-size="20" dy="-11" dx="3">−</tspan></text>
<text x="1705.8" y="1928.6" font-size="28.5" font-weight="bold">e<tspan font-size="20" dy="-11" dx="3">−</tspan></text><text x="1741" y="1928.6" font-size="28.5" font-weight="bold">e<tspan font-size="20" dy="-11" dx="3">−</tspan></text><text x="1776" y="1928.6" font-size="28.5" font-weight="bold">e<tspan font-size="20" dy="-11" dx="3">−</tspan></text>
<text x="1541" y="2387.3" font-size="28.5" font-weight="bold">h<tspan font-size="18" dy="-10" dx="1">+</tspan></text><text x="1585.4" y="2387.3" font-size="28.5" font-weight="bold">h<tspan font-size="18" dy="-10" dx="1">+</tspan></text><text x="1637.7" y="2387.3" font-size="28.5" font-weight="bold">h<tspan font-size="18" dy="-10" dx="1">+</tspan></text>
<text x="1707.2" y="2185.9" font-size="28.5" font-weight="bold">h<tspan font-size="18" dy="-10" dx="1">+</tspan></text><text x="1751.5" y="2185.9" font-size="28.5" font-weight="bold">h<tspan font-size="18" dy="-10" dx="1">+</tspan></text><text x="1803.9" y="2185.9" font-size="28.5" font-weight="bold">h<tspan font-size="18" dy="-10" dx="1">+</tspan></text>
<text x="1517.3" y="2200" font-size="28.5" font-weight="bold" textLength="40.4" lengthAdjust="spacingAndGlyphs" >CB</text>
<text x="1517.3" y="2327" font-size="28.5" font-weight="bold" textLength="41" lengthAdjust="spacingAndGlyphs" >VB</text>
<text x="1607.7" y="2262.3" font-size="28.5" font-weight="bold" textLength="88.5" lengthAdjust="spacingAndGlyphs" >3.14eV</text>
<text x="1773.9" y="2061" font-size="28.5" font-weight="bold" textLength="88" lengthAdjust="spacingAndGlyphs" >2.17eV</text>
<text x="1573" y="2470" font-size="28.5" font-weight="bold" textLength="59.7" lengthAdjust="spacingAndGlyphs" >ZnO</text>
<text x="1738.2" y="2275" font-size="28.5" font-weight="bold" textLength="73.8" lengthAdjust="spacingAndGlyphs" >Cu<tspan font-size="19" dy="6">2</tspan><tspan dy="-6" font-size="1">&#8203;</tspan>O</text>
<g transform="translate(1874.7 1865.3) scale(1.0000 1.0000)"><path d="M0 73.6L0 80A105.5 68 0 0 0 78 145.6L78 162L105.5 136.2L78 108.8L78 124.2A101 56.3 0 0 1 5.3 77.1Z" fill="#5b9bd5" stroke="#4a86c0" stroke-width="1"/><path d="M105.5 0A105.5 73.6 0 0 0 0 73.6L0 77L5.3 77.1A101 62 0 0 1 105.5 23Z" fill="#4a7dae"/></g>
<g transform="translate(1882.5 2066.8) scale(0.9896 0.9969)"><path d="M0 73.6L0 80A105.5 68 0 0 0 78 145.6L78 162L105.5 136.2L78 108.8L78 124.2A101 56.3 0 0 1 5.3 77.1Z" fill="#5b9bd5" stroke="#4a86c0" stroke-width="1"/><path d="M105.5 0A105.5 73.6 0 0 0 0 73.6L0 77L5.3 77.1A101 62 0 0 1 105.5 23Z" fill="#4a7dae"/></g>
<g transform="translate(2069.4 1977) scale(0.9972 1.0012)"><path d="M0 73.6L0 80A105.5 68 0 0 0 78 145.6L78 162L105.5 136.2L78 108.8L78 124.2A101 56.3 0 0 1 5.3 77.1Z" fill="#5b9bd5" stroke="#4a86c0" stroke-width="1"/><path d="M105.5 0A105.5 73.6 0 0 0 0 73.6L0 77L5.3 77.1A101 62 0 0 1 105.5 23Z" fill="#4a7dae"/></g>
<g transform="translate(1484.9 2095.4) scale(-0.8360 0.7722)"><path d="M0 73.6L0 80A105.5 68 0 0 0 78 145.6L78 162L105.5 136.2L78 108.8L78 124.2A94.5 56.3 0 0 1 11.8 77.1Z" fill="#5b9bd5" stroke="#4a86c0" stroke-width="1"/><path d="M105.5 0A105.5 73.6 0 0 0 0 73.6L0 77L11.8 77.1A94.5 62 0 0 1 105.5 23Z" fill="#4a7dae"/></g>
<g transform="translate(1361.5 2212.3) scale(-0.8313 0.7846)"><path d="M0 73.6L0 80A105.5 68 0 0 0 78 145.6L78 162L105.5 136.2L78 108.8L78 124.2A94.5 56.3 0 0 1 11.8 77.1Z" fill="#5b9bd5" stroke="#4a86c0" stroke-width="1"/><path d="M105.5 0A105.5 73.6 0 0 0 0 73.6L0 77L11.8 77.1A94.5 62 0 0 1 105.5 23Z" fill="#4a7dae"/></g>
<g transform="translate(1480.8 2328.8) scale(-0.8389 0.7963)"><path d="M0 73.6L0 80A105.5 68 0 0 0 78 145.6L78 162L105.5 136.2L78 108.8L78 124.2A94.5 56.3 0 0 1 11.8 77.1Z" fill="#5b9bd5" stroke="#4a86c0" stroke-width="1"/><path d="M105.5 0A105.5 73.6 0 0 0 0 73.6L0 77L11.8 77.1A94.5 62 0 0 1 105.5 23Z" fill="#4a7dae"/></g>
<text x="1345.3" y="2109.3" font-size="28.5" font-weight="bold" >O<tspan font-size="19" dy="6">2</tspan><tspan dy="-6" font-size="1">&#8203;</tspan></text>
<text x="1326" y="2201.8" font-size="28.5" font-weight="bold" >·O<tspan font-size="19" dy="6">2</tspan><tspan dy="-6" font-size="1">&#8203;</tspan><tspan font-size="18" dy="-12">−</tspan></text>
<text x="1170.4" y="2247" font-size="28.5" font-weight="bold" textLength="52" lengthAdjust="spacingAndGlyphs" >MO</text>
<text x="1141.5" y="2327" font-size="28.5" font-weight="bold" textLength="132" lengthAdjust="spacingAndGlyphs" >CO<tspan font-size="19" dy="6">2</tspan><tspan dy="-6" font-size="1">&#8203;</tspan>+H<tspan font-size="19" dy="6">2</tspan><tspan dy="-6" font-size="1">&#8203;</tspan>O</text>
<text x="1294.2" y="2350" font-size="28.5" font-weight="bold" textLength="57.7" lengthAdjust="spacingAndGlyphs" >-OH</text>
<text x="1322.3" y="2440.4" font-size="28.5" font-weight="bold" >H<tspan font-size="19" dy="6">2</tspan><tspan dy="-6" font-size="1">&#8203;</tspan></text>
<text x="1322.3" y="2471" font-size="28.5" font-weight="bold" >O</text>
<text x="2002.6" y="1891.9" font-size="28.5" font-weight="bold" >O<tspan font-size="19" dy="6">2</tspan><tspan dy="-6" font-size="1">&#8203;</tspan></text>
<text x="2005" y="2010.6" font-size="28.5" font-weight="bold" >·O<tspan font-size="19" dy="6">2</tspan><tspan dy="-6" font-size="1">&#8203;</tspan></text>
<path d="M2005 2019H2017" stroke="#000" stroke-width="2"/>
<text x="2201.2" y="1999.1" font-size="28.5" font-weight="bold" textLength="53.8" lengthAdjust="spacingAndGlyphs" >MO</text>
<text x="2005" y="2086.8" font-size="28.5" font-weight="bold" textLength="57.2" lengthAdjust="spacingAndGlyphs" >-OH</text>
<text x="2201.2" y="2109.6" font-size="28.5" font-weight="bold" textLength="132.5" lengthAdjust="spacingAndGlyphs" >CO<tspan font-size="19" dy="6">2</tspan><tspan dy="-6" font-size="1">&#8203;</tspan>+H<tspan font-size="19" dy="6">2</tspan><tspan dy="-6" font-size="1">&#8203;</tspan>O</text>
<text x="2019.2" y="2205" font-size="28.5" font-weight="bold" >H<tspan font-size="19" dy="6">2</tspan><tspan dy="-6" font-size="1">&#8203;</tspan></text>
<text x="2019.2" y="2236" font-size="28.5" font-weight="bold" >O</text></g>
</svg></body></html>
